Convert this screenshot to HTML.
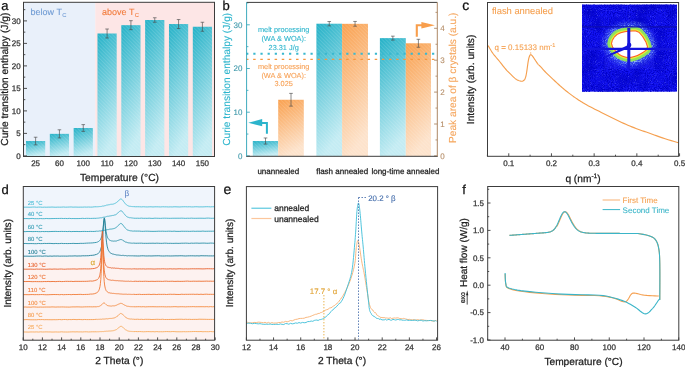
<!DOCTYPE html><html><head><meta charset="utf-8"><style>html,body{margin:0;padding:0;background:#fff;overflow:hidden}svg{display:block}text{font-family:"Liberation Sans",sans-serif;text-rendering:geometricPrecision}svg{will-change:transform}</style></head><body><svg width="685" height="367" viewBox="0 0 685 367"><defs>
<linearGradient id="gT" x1="0" y1="0" x2="0.25" y2="1"><stop offset="0" stop-color="#24b1c7"/><stop offset="1" stop-color="#c4ecf3"/></linearGradient>
<linearGradient id="gO" x1="0" y1="0" x2="0.25" y2="1"><stop offset="0" stop-color="#f9a04e"/><stop offset="1" stop-color="#fde3cc"/></linearGradient>
<pattern id="hatch" width="2.6" height="2.6" patternUnits="userSpaceOnUse" patternTransform="rotate(-45)"><rect width="0.9" height="2.6" fill="#ffffff" fill-opacity="0.13"/></pattern>
</defs>
<rect x="23.5" y="2.3" width="71.8" height="154.2" fill="#e9f0fa" />
<rect x="95.3" y="2.3" width="119.2" height="154.2" fill="#fde6e6" />
<rect x="26" y="141.05" width="19.2" height="15.45" fill="url(#gT)" />
<rect x="26" y="141.05" width="19.2" height="15.45" fill="url(#hatch)" />
<line x1="35.6" y1="137.23" x2="35.6" y2="144.88" stroke="#4a4a4a" stroke-width="0.65" />
<line x1="33.8" y1="137.23" x2="37.4" y2="137.23" stroke="#4a4a4a" stroke-width="0.65" />
<line x1="33.8" y1="144.88" x2="37.4" y2="144.88" stroke="#4a4a4a" stroke-width="0.65" />
<text x="35.6" y="165.8" font-size="8" fill="#333" stroke="#333" stroke-width="0.25" text-anchor="middle" >25</text>
<rect x="49.83" y="133.85" width="19.2" height="22.65" fill="url(#gT)" />
<rect x="49.83" y="133.85" width="19.2" height="22.65" fill="url(#hatch)" />
<line x1="59.43" y1="129.8" x2="59.43" y2="137.9" stroke="#4a4a4a" stroke-width="0.65" />
<line x1="57.63" y1="129.8" x2="61.23" y2="129.8" stroke="#4a4a4a" stroke-width="0.65" />
<line x1="57.63" y1="137.9" x2="61.23" y2="137.9" stroke="#4a4a4a" stroke-width="0.65" />
<text x="59.43" y="165.8" font-size="8" fill="#333" stroke="#333" stroke-width="0.25" text-anchor="middle" >60</text>
<rect x="73.66" y="128" width="19.2" height="28.5" fill="url(#gT)" />
<rect x="73.66" y="128" width="19.2" height="28.5" fill="url(#hatch)" />
<line x1="83.26" y1="124.62" x2="83.26" y2="131.38" stroke="#4a4a4a" stroke-width="0.65" />
<line x1="81.46" y1="124.62" x2="85.06" y2="124.62" stroke="#4a4a4a" stroke-width="0.65" />
<line x1="81.46" y1="131.38" x2="85.06" y2="131.38" stroke="#4a4a4a" stroke-width="0.65" />
<text x="83.26" y="165.8" font-size="8" fill="#333" stroke="#333" stroke-width="0.25" text-anchor="middle" >100</text>
<rect x="97.49" y="33.5" width="19.2" height="123" fill="url(#gT)" />
<rect x="97.49" y="33.5" width="19.2" height="123" fill="url(#hatch)" />
<line x1="107.09" y1="29" x2="107.09" y2="38" stroke="#4a4a4a" stroke-width="0.65" />
<line x1="105.29" y1="29" x2="108.89" y2="29" stroke="#4a4a4a" stroke-width="0.65" />
<line x1="105.29" y1="38" x2="108.89" y2="38" stroke="#4a4a4a" stroke-width="0.65" />
<text x="107.09" y="165.8" font-size="8" fill="#333" stroke="#333" stroke-width="0.25" text-anchor="middle" >110</text>
<rect x="121.32" y="25.18" width="19.2" height="131.32" fill="url(#gT)" />
<rect x="121.32" y="25.18" width="19.2" height="131.32" fill="url(#hatch)" />
<line x1="130.92" y1="20.68" x2="130.92" y2="29.67" stroke="#4a4a4a" stroke-width="0.65" />
<line x1="129.12" y1="20.68" x2="132.72" y2="20.68" stroke="#4a4a4a" stroke-width="0.65" />
<line x1="129.12" y1="29.67" x2="132.72" y2="29.67" stroke="#4a4a4a" stroke-width="0.65" />
<text x="130.92" y="165.8" font-size="8" fill="#333" stroke="#333" stroke-width="0.25" text-anchor="middle" >120</text>
<rect x="145.15" y="20" width="19.2" height="136.5" fill="url(#gT)" />
<rect x="145.15" y="20" width="19.2" height="136.5" fill="url(#hatch)" />
<line x1="154.75" y1="17.75" x2="154.75" y2="22.25" stroke="#4a4a4a" stroke-width="0.65" />
<line x1="152.95" y1="17.75" x2="156.55" y2="17.75" stroke="#4a4a4a" stroke-width="0.65" />
<line x1="152.95" y1="22.25" x2="156.55" y2="22.25" stroke="#4a4a4a" stroke-width="0.65" />
<text x="154.75" y="165.8" font-size="8" fill="#333" stroke="#333" stroke-width="0.25" text-anchor="middle" >130</text>
<rect x="168.98" y="24.05" width="19.2" height="132.45" fill="url(#gT)" />
<rect x="168.98" y="24.05" width="19.2" height="132.45" fill="url(#hatch)" />
<line x1="178.58" y1="19.55" x2="178.58" y2="28.55" stroke="#4a4a4a" stroke-width="0.65" />
<line x1="176.78" y1="19.55" x2="180.38" y2="19.55" stroke="#4a4a4a" stroke-width="0.65" />
<line x1="176.78" y1="28.55" x2="180.38" y2="28.55" stroke="#4a4a4a" stroke-width="0.65" />
<text x="178.58" y="165.8" font-size="8" fill="#333" stroke="#333" stroke-width="0.25" text-anchor="middle" >140</text>
<rect x="192.81" y="26.75" width="19.2" height="129.75" fill="url(#gT)" />
<rect x="192.81" y="26.75" width="19.2" height="129.75" fill="url(#hatch)" />
<line x1="202.41" y1="22.25" x2="202.41" y2="31.25" stroke="#4a4a4a" stroke-width="0.65" />
<line x1="200.61" y1="22.25" x2="204.21" y2="22.25" stroke="#4a4a4a" stroke-width="0.65" />
<line x1="200.61" y1="31.25" x2="204.21" y2="31.25" stroke="#4a4a4a" stroke-width="0.65" />
<text x="202.41" y="165.8" font-size="8" fill="#333" stroke="#333" stroke-width="0.25" text-anchor="middle" >150</text>
<line x1="23.5" y1="155.9" x2="27" y2="155.9" stroke="#3c3c3c" stroke-width="0.9" />
<text x="20.6" y="158.75" font-size="8" fill="#333" stroke="#333" stroke-width="0.25" text-anchor="end" >0</text>
<line x1="23.5" y1="133.4" x2="27" y2="133.4" stroke="#3c3c3c" stroke-width="0.9" />
<text x="20.6" y="136.25" font-size="8" fill="#333" stroke="#333" stroke-width="0.25" text-anchor="end" >5</text>
<line x1="23.5" y1="110.9" x2="27" y2="110.9" stroke="#3c3c3c" stroke-width="0.9" />
<text x="20.6" y="113.75" font-size="8" fill="#333" stroke="#333" stroke-width="0.25" text-anchor="end" >10</text>
<line x1="23.5" y1="88.4" x2="27" y2="88.4" stroke="#3c3c3c" stroke-width="0.9" />
<text x="20.6" y="91.25" font-size="8" fill="#333" stroke="#333" stroke-width="0.25" text-anchor="end" >15</text>
<line x1="23.5" y1="65.9" x2="27" y2="65.9" stroke="#3c3c3c" stroke-width="0.9" />
<text x="20.6" y="68.75" font-size="8" fill="#333" stroke="#333" stroke-width="0.25" text-anchor="end" >20</text>
<line x1="23.5" y1="43.4" x2="27" y2="43.4" stroke="#3c3c3c" stroke-width="0.9" />
<text x="20.6" y="46.25" font-size="8" fill="#333" stroke="#333" stroke-width="0.25" text-anchor="end" >25</text>
<line x1="23.5" y1="20.9" x2="27" y2="20.9" stroke="#3c3c3c" stroke-width="0.9" />
<text x="20.6" y="23.75" font-size="8" fill="#333" stroke="#333" stroke-width="0.25" text-anchor="end" >30</text>
<line x1="23.5" y1="144.65" x2="25.3" y2="144.65" stroke="#3c3c3c" stroke-width="0.9" />
<line x1="23.5" y1="122.15" x2="25.3" y2="122.15" stroke="#3c3c3c" stroke-width="0.9" />
<line x1="23.5" y1="99.65" x2="25.3" y2="99.65" stroke="#3c3c3c" stroke-width="0.9" />
<line x1="23.5" y1="77.15" x2="25.3" y2="77.15" stroke="#3c3c3c" stroke-width="0.9" />
<line x1="23.5" y1="54.65" x2="25.3" y2="54.65" stroke="#3c3c3c" stroke-width="0.9" />
<line x1="23.5" y1="32.15" x2="25.3" y2="32.15" stroke="#3c3c3c" stroke-width="0.9" />
<line x1="23.5" y1="9.65" x2="25.3" y2="9.65" stroke="#3c3c3c" stroke-width="0.9" />
<rect x="23.5" y="2.3" width="191.0" height="154.2" fill="none" stroke="#3c3c3c" stroke-width="1"/>
<text x="30.6" y="14.9" font-size="9" fill="#6f9bd4" stroke="#6f9bd4" stroke-width="0.1" text-anchor="start" >below T<tspan font-size="5.8" dy="1.6" dx="0.2">C</tspan></text>
<text x="102.1" y="14.9" font-size="9" fill="#f27a3a" stroke="#f27a3a" stroke-width="0.1" text-anchor="start" >above T<tspan font-size="5.8" dy="1.6" dx="0.2">C</tspan></text>
<text x="119.5" y="180.9" font-size="10.3" fill="#222" stroke="#222" stroke-width="0.25" text-anchor="middle" >Temperature (°C)</text>
<text transform="translate(8.2,79.2) rotate(-90)" font-size="10.2" fill="#222" stroke="#222" stroke-width="0.25" text-anchor="middle" >Curie transition enthalpy (J/g)</text>
<text x="1.2" y="9.8" font-size="13" fill="#111" stroke="#111" stroke-width="0.25" text-anchor="start" >a</text>
<rect x="252.8" y="141.04" width="25.4" height="15.26" fill="url(#gT)" />
<rect x="252.8" y="141.04" width="25.4" height="15.26" fill="url(#hatch)" />
<rect x="278.2" y="99.76" width="25.6" height="56.54" fill="url(#gO)" />
<rect x="278.2" y="99.76" width="25.6" height="56.54" fill="url(#hatch)" />
<line x1="265.5" y1="137.98" x2="265.5" y2="144.1" stroke="#4a4a4a" stroke-width="0.65" />
<line x1="263.7" y1="137.98" x2="267.3" y2="137.98" stroke="#4a4a4a" stroke-width="0.65" />
<line x1="263.7" y1="144.1" x2="267.3" y2="144.1" stroke="#4a4a4a" stroke-width="0.65" />
<line x1="291" y1="93.38" x2="291" y2="106.14" stroke="#4a4a4a" stroke-width="0.65" />
<line x1="289.2" y1="93.38" x2="292.8" y2="93.38" stroke="#4a4a4a" stroke-width="0.65" />
<line x1="289.2" y1="106.14" x2="292.8" y2="106.14" stroke="#4a4a4a" stroke-width="0.65" />
<text x="278.3" y="173.9" font-size="8" fill="#222" stroke="#222" stroke-width="0.25" text-anchor="middle" >unannealed</text>
<rect x="316.4" y="23.71" width="25.7" height="132.59" fill="url(#gT)" />
<rect x="316.4" y="23.71" width="25.7" height="132.59" fill="url(#hatch)" />
<rect x="342.1" y="23.83" width="25.9" height="132.47" fill="url(#gO)" />
<rect x="342.1" y="23.83" width="25.9" height="132.47" fill="url(#hatch)" />
<line x1="329.25" y1="21.52" x2="329.25" y2="25.89" stroke="#4a4a4a" stroke-width="0.65" />
<line x1="327.45" y1="21.52" x2="331.05" y2="21.52" stroke="#4a4a4a" stroke-width="0.65" />
<line x1="327.45" y1="25.89" x2="331.05" y2="25.89" stroke="#4a4a4a" stroke-width="0.65" />
<line x1="355.05" y1="21.44" x2="355.05" y2="26.23" stroke="#4a4a4a" stroke-width="0.65" />
<line x1="353.25" y1="21.44" x2="356.85" y2="21.44" stroke="#4a4a4a" stroke-width="0.65" />
<line x1="353.25" y1="26.23" x2="356.85" y2="26.23" stroke="#4a4a4a" stroke-width="0.65" />
<text x="342.2" y="173.9" font-size="8" fill="#222" stroke="#222" stroke-width="0.25" text-anchor="middle" >flash annealed</text>
<rect x="379.9" y="38.13" width="25.9" height="118.17" fill="url(#gT)" />
<rect x="379.9" y="38.13" width="25.9" height="118.17" fill="url(#hatch)" />
<rect x="405.8" y="43.29" width="25.2" height="113.01" fill="url(#gO)" />
<rect x="405.8" y="43.29" width="25.2" height="113.01" fill="url(#hatch)" />
<line x1="392.85" y1="36.16" x2="392.85" y2="40.09" stroke="#4a4a4a" stroke-width="0.65" />
<line x1="391.05" y1="36.16" x2="394.65" y2="36.16" stroke="#4a4a4a" stroke-width="0.65" />
<line x1="391.05" y1="40.09" x2="394.65" y2="40.09" stroke="#4a4a4a" stroke-width="0.65" />
<line x1="418.4" y1="39.31" x2="418.4" y2="47.28" stroke="#4a4a4a" stroke-width="0.65" />
<line x1="416.6" y1="39.31" x2="420.2" y2="39.31" stroke="#4a4a4a" stroke-width="0.65" />
<line x1="416.6" y1="47.28" x2="420.2" y2="47.28" stroke="#4a4a4a" stroke-width="0.65" />
<text x="405.45" y="173.9" font-size="8" fill="#222" stroke="#222" stroke-width="0.25" text-anchor="middle" >long-time annealed</text>
<line x1="246.15" y1="53.7" x2="435" y2="53.7" stroke="#3ab8cf" stroke-width="2.0" stroke-dasharray="2.2,4.95"/>
<line x1="246" y1="59.3" x2="435" y2="59.3" stroke="#f7953e" stroke-width="1.2" stroke-dasharray="2.5,4.65"/>
<line x1="246.6" y1="155.9" x2="249.8" y2="155.9" stroke="#3eaabd" stroke-width="0.9" />
<text x="242.5" y="158.75" font-size="8" fill="#3a96a8" stroke="#3a96a8" stroke-width="0.1" text-anchor="end" >0</text>
<line x1="246.6" y1="112.2" x2="249.8" y2="112.2" stroke="#3eaabd" stroke-width="0.9" />
<text x="242.5" y="115.05" font-size="8" fill="#3a96a8" stroke="#3a96a8" stroke-width="0.1" text-anchor="end" >10</text>
<line x1="246.6" y1="68.5" x2="249.8" y2="68.5" stroke="#3eaabd" stroke-width="0.9" />
<text x="242.5" y="71.35" font-size="8" fill="#3a96a8" stroke="#3a96a8" stroke-width="0.1" text-anchor="end" >20</text>
<line x1="246.6" y1="24.8" x2="249.8" y2="24.8" stroke="#3eaabd" stroke-width="0.9" />
<text x="242.5" y="27.65" font-size="8" fill="#3a96a8" stroke="#3a96a8" stroke-width="0.1" text-anchor="end" >30</text>
<line x1="246.6" y1="134.05" x2="248.4" y2="134.05" stroke="#3eaabd" stroke-width="0.9" />
<line x1="246.6" y1="90.35" x2="248.4" y2="90.35" stroke="#3eaabd" stroke-width="0.9" />
<line x1="246.6" y1="46.65" x2="248.4" y2="46.65" stroke="#3eaabd" stroke-width="0.9" />
<line x1="246.6" y1="2.95" x2="248.4" y2="2.95" stroke="#3eaabd" stroke-width="0.9" />
<line x1="434.1" y1="155.9" x2="437.3" y2="155.9" stroke="#ad8864" stroke-width="0.9" />
<text x="440.2" y="158.75" font-size="8" fill="#b48c66" stroke="#b48c66" stroke-width="0.1" text-anchor="start" >0</text>
<line x1="434.1" y1="124" x2="437.3" y2="124" stroke="#ad8864" stroke-width="0.9" />
<text x="440.2" y="126.85" font-size="8" fill="#b48c66" stroke="#b48c66" stroke-width="0.1" text-anchor="start" >1</text>
<line x1="434.1" y1="92.1" x2="437.3" y2="92.1" stroke="#ad8864" stroke-width="0.9" />
<text x="440.2" y="94.95" font-size="8" fill="#b48c66" stroke="#b48c66" stroke-width="0.1" text-anchor="start" >2</text>
<line x1="434.1" y1="60.2" x2="437.3" y2="60.2" stroke="#ad8864" stroke-width="0.9" />
<text x="440.2" y="63.05" font-size="8" fill="#b48c66" stroke="#b48c66" stroke-width="0.1" text-anchor="start" >3</text>
<line x1="434.1" y1="28.3" x2="437.3" y2="28.3" stroke="#ad8864" stroke-width="0.9" />
<text x="440.2" y="31.15" font-size="8" fill="#b48c66" stroke="#b48c66" stroke-width="0.1" text-anchor="start" >4</text>
<line x1="435.5" y1="139.95" x2="437.3" y2="139.95" stroke="#ad8864" stroke-width="0.9" />
<line x1="435.5" y1="108.05" x2="437.3" y2="108.05" stroke="#ad8864" stroke-width="0.9" />
<line x1="435.5" y1="76.15" x2="437.3" y2="76.15" stroke="#ad8864" stroke-width="0.9" />
<line x1="435.5" y1="44.25" x2="437.3" y2="44.25" stroke="#ad8864" stroke-width="0.9" />
<line x1="435.5" y1="12.35" x2="437.3" y2="12.35" stroke="#ad8864" stroke-width="0.9" />
<line x1="246.6" y1="2.4" x2="437.3" y2="2.4" stroke="#3c3c3c" stroke-width="1" />
<line x1="246.1" y1="156.3" x2="437.8" y2="156.3" stroke="#3c3c3c" stroke-width="1" />
<line x1="246.6" y1="2.4" x2="246.6" y2="156.3" stroke="#3eaabd" stroke-width="1" />
<line x1="437.3" y1="2.4" x2="437.3" y2="156.3" stroke="#ad8864" stroke-width="1" />
<text x="283.7" y="31.9" font-size="7.35" fill="#2bb4cc" stroke="#2bb4cc" stroke-width="0.1" text-anchor="middle" >melt processing</text>
<text x="283.7" y="40.8" font-size="7.35" fill="#2bb4cc" stroke="#2bb4cc" stroke-width="0.1" text-anchor="middle" >(WA &amp; WOA):</text>
<text x="283.7" y="49.7" font-size="7.35" fill="#2bb4cc" stroke="#2bb4cc" stroke-width="0.1" text-anchor="middle" >23.31 J/g</text>
<text x="283.7" y="69.2" font-size="7.35" fill="#f7a055" stroke="#f7a055" stroke-width="0.1" text-anchor="middle" >melt processing</text>
<text x="283.7" y="77.75" font-size="7.35" fill="#f7a055" stroke="#f7a055" stroke-width="0.1" text-anchor="middle" >(WA &amp; WOA):</text>
<text x="283.7" y="86.3" font-size="7.35" fill="#f7a055" stroke="#f7a055" stroke-width="0.1" text-anchor="middle" >3.025</text>
<path d="M266.9,133.7 L266.9,122.9 L260,122.9" fill="none" stroke="#2bb4cc" stroke-width="2.0"/>
<path d="M248.3,122.8 L262.2,119 L262.2,126.3 Z" fill="#2bb4cc"/>
<path d="M416.8,36.7 L416.8,25.2 L424,25.2" fill="none" stroke="#f89e4c" stroke-width="2.1"/>
<path d="M434.9,25.2 L421.4,21.9 L421.4,28.6 Z" fill="#f89e4c"/>
<text transform="translate(229.8,79.3) rotate(-90)" font-size="10.2" fill="#2bb4cc" stroke="#2bb4cc" stroke-width="0.1" text-anchor="middle" >Curie transition enthalpy (J/g)</text>
<text transform="translate(455.6,77.8) rotate(-90)" font-size="10.2" fill="#f5a45a" stroke="#f5a45a" stroke-width="0.1" text-anchor="middle" >Peak area of β crystals (a.u.)</text>
<text x="222.6" y="9.8" font-size="13" fill="#111" stroke="#111" stroke-width="0.25" text-anchor="start" >b</text>
<path d="M488,45.5 L488.53,46.37 L489.24,47.57 L490.09,49 L491.03,50.54 L492.02,52.07 L493,53.5 L494.01,54.83 L495.09,56.17 L496.21,57.5 L497.36,58.83 L498.49,60.17 L499.6,61.5 L500.67,62.84 L501.71,64.19 L502.76,65.54 L503.81,66.89 L504.88,68.21 L506,69.5 L507.21,70.81 L508.5,72.14 L509.82,73.46 L511.1,74.71 L512.28,75.84 L513.3,76.8 L514.12,77.57 L514.77,78.18 L515.32,78.67 L515.84,79.08 L516.38,79.44 L517,79.8 L517.73,80.15 L518.51,80.47 L519.33,80.74 L520.12,80.96 L520.86,81.12 L521.5,81.2 L522.04,81.21 L522.52,81.14 L522.94,81.01 L523.31,80.83 L523.66,80.59 L524,80.3 L524.31,79.97 L524.59,79.59 L524.84,79.16 L525.07,78.67 L525.28,78.12 L525.5,77.5 L525.7,76.87 L525.87,76.24 L526.04,75.56 L526.2,74.74 L526.39,73.75 L526.6,72.5 L526.85,70.86 L527.14,68.83 L527.44,66.62 L527.75,64.42 L528.04,62.42 L528.3,60.8 L528.53,59.59 L528.74,58.63 L528.93,57.86 L529.12,57.24 L529.31,56.71 L529.5,56.2 L529.69,55.74 L529.88,55.36 L530.06,55.08 L530.26,54.87 L530.47,54.75 L530.7,54.7 L530.96,54.74 L531.23,54.87 L531.52,55.08 L531.83,55.36 L532.15,55.7 L532.5,56.1 L532.87,56.58 L533.27,57.15 L533.69,57.78 L534.12,58.45 L534.56,59.13 L535,59.8 L535.46,60.48 L535.93,61.21 L536.42,61.94 L536.9,62.66 L537.36,63.32 L537.8,63.9 L538.16,64.33 L538.44,64.61 L538.7,64.85 L539.01,65.12 L539.42,65.51 L540,66.1 L540.78,66.94 L541.71,67.97 L542.74,69.11 L543.84,70.31 L544.94,71.5 L546,72.6 L547.03,73.63 L548.09,74.65 L549.14,75.65 L550.2,76.64 L551.26,77.62 L552.3,78.6 L553.33,79.57 L554.35,80.54 L555.36,81.49 L556.37,82.44 L557.39,83.38 L558.4,84.3 L559.42,85.21 L560.43,86.11 L561.45,87.01 L562.47,87.89 L563.48,88.75 L564.5,89.6 L565.52,90.43 L566.53,91.25 L567.54,92.06 L568.56,92.85 L569.58,93.63 L570.6,94.4 L571.63,95.16 L572.66,95.91 L573.7,96.66 L574.74,97.39 L575.77,98.1 L576.8,98.8 L577.82,99.48 L578.84,100.15 L579.86,100.81 L580.87,101.45 L581.88,102.08 L582.9,102.7 L583.84,103.28 L584.7,103.8 L585.56,104.31 L586.51,104.85 L587.62,105.47 L589,106.2 L590.69,107.08 L592.64,108.07 L594.77,109.14 L596.98,110.25 L599.18,111.35 L601.3,112.4 L603.34,113.41 L605.37,114.42 L607.4,115.42 L609.43,116.41 L611.46,117.41 L613.5,118.4 L615.55,119.4 L617.6,120.41 L619.65,121.42 L621.7,122.41 L623.75,123.38 L625.8,124.3 L627.84,125.18 L629.87,126.03 L631.9,126.85 L633.93,127.65 L635.96,128.43 L638,129.2 L640.05,129.95 L642.1,130.67 L644.15,131.38 L646.2,132.08 L648.25,132.78 L650.3,133.5 L652.3,134.22 L654.23,134.94 L656.17,135.66 L658.16,136.39 L660.25,137.14 L662.5,137.9 L665.13,138.74 L668.14,139.68 L671.26,140.63 L674.21,141.51 L676.72,142.26 L678.5,142.8" fill="none" stroke="#f5a050" stroke-width="1.15" stroke-linejoin="round" />
<line x1="530.7" y1="52" x2="530.7" y2="54.5" stroke="#f5a050" stroke-width="0.6" />
<line x1="508.75" y1="156.3" x2="508.75" y2="153.3" stroke="#3c3c3c" stroke-width="0.9" />
<text x="508.75" y="165.8" font-size="8" fill="#333" stroke="#333" stroke-width="0.25" text-anchor="middle" >0.1</text>
<line x1="551.45" y1="156.3" x2="551.45" y2="153.3" stroke="#3c3c3c" stroke-width="0.9" />
<text x="551.45" y="165.8" font-size="8" fill="#333" stroke="#333" stroke-width="0.25" text-anchor="middle" >0.2</text>
<line x1="594.15" y1="156.3" x2="594.15" y2="153.3" stroke="#3c3c3c" stroke-width="0.9" />
<text x="594.15" y="165.8" font-size="8" fill="#333" stroke="#333" stroke-width="0.25" text-anchor="middle" >0.3</text>
<line x1="636.85" y1="156.3" x2="636.85" y2="153.3" stroke="#3c3c3c" stroke-width="0.9" />
<text x="636.85" y="165.8" font-size="8" fill="#333" stroke="#333" stroke-width="0.25" text-anchor="middle" >0.4</text>
<line x1="679.55" y1="156.3" x2="679.55" y2="153.3" stroke="#3c3c3c" stroke-width="0.9" />
<text x="679.55" y="165.8" font-size="8" fill="#333" stroke="#333" stroke-width="0.25" text-anchor="middle" >0.5</text>
<line x1="487.4" y1="156.3" x2="487.4" y2="154.7" stroke="#3c3c3c" stroke-width="0.9" />
<line x1="530.1" y1="156.3" x2="530.1" y2="154.7" stroke="#3c3c3c" stroke-width="0.9" />
<line x1="572.8" y1="156.3" x2="572.8" y2="154.7" stroke="#3c3c3c" stroke-width="0.9" />
<line x1="615.5" y1="156.3" x2="615.5" y2="154.7" stroke="#3c3c3c" stroke-width="0.9" />
<line x1="658.2" y1="156.3" x2="658.2" y2="154.7" stroke="#3c3c3c" stroke-width="0.9" />
<defs><filter id="nz" x="0" y="0" width="1" height="1"><feTurbulence type="fractalNoise" baseFrequency="1.15" numOctaves="1" seed="7"/><feColorMatrix values="0 0 0 0 0.28  0 0 0 0 0.32  0 0 0 0 1  0 0 0 3.0 -1.8"/></filter><filter id="nz2" x="0" y="0" width="1" height="1"><feTurbulence type="fractalNoise" baseFrequency="1.05" numOctaves="1" seed="2"/><feColorMatrix values="0 0 0 0 0  0 0 0 0 0  0 0 0 0 0.55  0 0 0 3.2 -1.3"/></filter><filter id="nz3" x="0" y="0" width="1" height="1"><feTurbulence type="fractalNoise" baseFrequency="0.06" numOctaves="2" seed="5"/><feColorMatrix values="0 0 0 0 0  0 0 0 0 0  0 0 0 0 0.55  0 0 0 2.0 -0.85"/></filter><filter id="speck" x="-40%" y="-40%" width="180%" height="180%"><feGaussianBlur in="SourceGraphic" stdDeviation="2.6" result="b"/><feTurbulence type="fractalNoise" baseFrequency="1.25" numOctaves="1" seed="11" result="n"/><feColorMatrix in="n" type="matrix" values="0 0 0 0 1  0 0 0 0 1  0 0 0 0 1  0 0 0 3.2 -1.45" result="na"/><feComposite in="b" in2="na" operator="in"/></filter><filter id="blr1" x="-50%" y="-50%" width="200%" height="200%"><feGaussianBlur stdDeviation="0.7"/></filter><filter id="blr2" x="-50%" y="-50%" width="200%" height="200%"><feGaussianBlur stdDeviation="2.5"/></filter><clipPath id="ic"><rect x="582" y="4.4" width="95" height="87.4"/></clipPath></defs>
<g clip-path="url(#ic)">
<rect x="582" y="4.4" width="95" height="87.4" fill="#1414f4" />
<rect x="582" y="4.4" width="95" height="87.4" filter="url(#nz3)"/>
<rect x="582" y="4.4" width="95" height="87.4" filter="url(#nz2)"/>
<rect x="582" y="4.4" width="95" height="87.4" filter="url(#nz)" opacity="0.6"/>
<rect x="604.8" y="29.2" width="49.2" height="39.5" fill="#3a3aff" opacity="0.22"/>
<path d="M612.03,43.56 L612.84,40.44 L614.87,37.32 L617.54,34.83 L620.91,33.25 L624.91,32.31 L628.77,31.81 L632.26,31.38 L635.61,31.4 L638.76,32.85 L642.19,36.81 L645.42,42.2 L646.97,46.79 L645.84,49.7 L643.02,51.82 L640,53.55 L637.18,55.03 L634.15,56.12 L631.27,56.77 L628.63,56.93 L626.14,56.66 L623.78,56.04 L621.58,55.2 L619.52,54.03 L617.54,52.3 L615.24,49.76 L613.02,46.66Z" fill="#5a90ff" stroke="#5a90ff" stroke-width="16" stroke-linejoin="round" opacity="0.45" filter="url(#blr2)"/>
<path d="M612.03,43.56 L612.84,40.44 L614.87,37.32 L617.54,34.83 L620.91,33.25 L624.91,32.31 L628.77,31.81 L632.26,31.38 L635.61,31.4 L638.76,32.85 L642.19,36.81 L645.42,42.2 L646.97,46.79 L645.84,49.7 L643.02,51.82 L640,53.55 L637.18,55.03 L634.15,56.12 L631.27,56.77 L628.63,56.93 L626.14,56.66 L623.78,56.04 L621.58,55.2 L619.52,54.03 L617.54,52.3 L615.24,49.76 L613.02,46.66Z" fill="#b8e0ff" stroke="#b8e0ff" stroke-width="17" stroke-linejoin="round" filter="url(#speck)" opacity="0.85"/>
<path d="M612.03,43.56 L612.84,40.44 L614.87,37.32 L617.54,34.83 L620.91,33.25 L624.91,32.31 L628.77,31.81 L632.26,31.38 L635.61,31.4 L638.76,32.85 L642.19,36.81 L645.42,42.2 L646.97,46.79 L645.84,49.7 L643.02,51.82 L640,53.55 L637.18,55.03 L634.15,56.12 L631.27,56.77 L628.63,56.93 L626.14,56.66 L623.78,56.04 L621.58,55.2 L619.52,54.03 L617.54,52.3 L615.24,49.76 L613.02,46.66Z" fill="#8fe25c" stroke="#8fe25c" stroke-width="9.5" stroke-linejoin="round" filter="url(#blr1)"/>
<path d="M612.03,43.56 L612.84,40.44 L614.87,37.32 L617.54,34.83 L620.91,33.25 L624.91,32.31 L628.77,31.81 L632.26,31.38 L635.61,31.4 L638.76,32.85 L642.19,36.81 L645.42,42.2 L646.97,46.79 L645.84,49.7 L643.02,51.82 L640,53.55 L637.18,55.03 L634.15,56.12 L631.27,56.77 L628.63,56.93 L626.14,56.66 L623.78,56.04 L621.58,55.2 L619.52,54.03 L617.54,52.3 L615.24,49.76 L613.02,46.66Z" fill="#e4ee3a" stroke="#e4ee3a" stroke-width="4.4" stroke-linejoin="round"/>
<path d="M612.03,43.56 L612.84,40.44 L614.87,37.32 L617.54,34.83 L620.91,33.25 L624.91,32.31 L628.77,31.81 L632.26,31.38 L635.61,31.4 L638.76,32.85 L642.19,36.81 L645.42,42.2 L646.97,46.79 L645.84,49.7 L643.02,51.82 L640,53.55 L637.18,55.03 L634.15,56.12 L631.27,56.77 L628.63,56.93 L626.14,56.66 L623.78,56.04 L621.58,55.2 L619.52,54.03 L617.54,52.3 L615.24,49.76 L613.02,46.66Z" fill="#ff5a22" stroke="#ff5a22" stroke-width="2.0" stroke-linejoin="round"/>
<path d="M612.03,43.56 L612.84,40.44 L614.87,37.32 L617.54,34.83 L620.91,33.25 L624.91,32.31 L628.77,31.81 L632.26,31.38 L635.61,31.4 L638.76,32.85 L642.19,36.81 L645.42,42.2 L646.97,46.79 L645.84,49.7 L643.02,51.82 L640,53.55 L637.18,55.03 L634.15,56.12 L631.27,56.77 L628.63,56.93 L626.14,56.66 L623.78,56.04 L621.58,55.2 L619.52,54.03 L617.54,52.3 L615.24,49.76 L613.02,46.66Z" fill="#ffffff"/>
<line x1="582" y1="26.8" x2="677" y2="26.8" stroke="#0e0eb0" stroke-width="1.2" />
<line x1="604.8" y1="29" x2="604.8" y2="68.7" stroke="#1616c8" stroke-width="0.7" opacity="0.7"/>
<line x1="654" y1="29" x2="654" y2="68.7" stroke="#1616c8" stroke-width="0.6" opacity="0.5"/>
<line x1="582" y1="48.9" x2="677" y2="48.9" stroke="#1414dc" stroke-width="2.2" />
<line x1="628.8" y1="28" x2="628.8" y2="69.5" stroke="#1414dc" stroke-width="3.0" />
<path d="M629,44.5 L604.5,56.8 L604.8,58 L629,48 Z" fill="#1414dc"/>
<circle cx="629.2" cy="45" r="2.2" fill="#1414dc"/>
</g>
<rect x="487.5" y="2.5" width="191.10000000000002" height="153.8" fill="none" stroke="#3c3c3c" stroke-width="1"/>
<text x="492" y="14.2" font-size="9.4" fill="#f5a050" stroke="#f5a050" stroke-width="0.1" text-anchor="start" >flash annealed</text>
<text x="494.5" y="50.4" font-size="8" fill="#f5a050" stroke="#f5a050" stroke-width="0.1" text-anchor="start" >q = 0.15133 nm<tspan font-size="5.5" dy="-3">-1</tspan></text>
<text x="583" y="181.9" font-size="10.2" fill="#222" stroke="#222" stroke-width="0.25" text-anchor="middle" >q (nm<tspan font-size="6.5" dy="-3.5">-1</tspan><tspan dy="3.5">)</tspan></text>
<text transform="translate(474.1,79.4) rotate(-90)" font-size="10.2" fill="#222" stroke="#222" stroke-width="0.25" text-anchor="middle" >Intensity (arb. units)</text>
<text x="462.2" y="10.3" font-size="14" fill="#111" stroke="#111" stroke-width="0.25" text-anchor="start" >c</text>
<rect x="23.3" y="186.5" width="191.3" height="71.3" fill="#f0f5fc" />
<rect x="23.3" y="257.8" width="191.3" height="82.4" fill="#fdf2f0" />
<g clip-path="url(#cd)">
<path d="M23.2,207.13 L25.12,207.2 L27.04,207.15 L28.96,207.21 L30.88,207.21 L32.8,207.06 L34.72,207.04 L36.64,207.25 L38.56,207.1 L40.48,207.09 L42.4,207.28 L44.32,207.14 L46.24,207.23 L48.16,207.13 L50.08,207.17 L52,207.04 L53.92,207.16 L55.84,207.22 L57.76,207.12 L59.68,207.17 L61.6,207.15 L63.52,206.99 L65.44,207.16 L67.36,207.12 L69.28,207.04 L71.2,206.96 L73.12,207.17 L75.04,207.06 L76.96,207.12 L78.88,207.16 L80.8,207.11 L82.72,207.15 L84.64,207.01 L86.56,207.11 L88.48,207 L90.4,207.11 L92.32,207.07 L94.24,206.82 L96.16,206.75 L96.54,206.75 L96.93,206.92 L97.31,206.76 L97.7,206.78 L98.08,206.66 L98.46,206.68 L98.85,206.62 L99.23,206.57 L99.62,206.58 L100,206.54 L100.38,206.57 L100.77,206.46 L101.15,206.46 L101.54,206.39 L101.92,206.36 L102.3,206.21 L102.69,206 L103.07,206.11 L103.46,206.06 L103.84,205.96 L104.22,205.8 L104.61,205.75 L104.99,205.53 L105.38,205.61 L105.76,205.45 L106.14,205.29 L106.53,205.14 L106.91,205.26 L107.3,205.21 L107.68,204.89 L108.06,204.99 L108.45,204.8 L108.83,204.66 L109.22,204.62 L109.6,204.67 L109.98,204.62 L110.37,204.34 L110.75,204.42 L111.14,204.21 L111.52,204.33 L111.9,204.16 L112.29,204.24 L112.67,204.2 L113.06,204.01 L113.44,204.06 L113.82,203.79 L114.21,203.62 L114.59,203.63 L114.98,203.34 L115.36,203.2 L115.74,203.05 L116.13,202.87 L116.51,202.48 L116.9,202.15 L117.28,202.02 L117.66,201.51 L118.05,201.29 L118.43,200.87 L118.82,200.32 L119.2,199.95 L119.58,199.61 L119.97,199.34 L120.35,199.1 L120.74,198.98 L121.12,199 L121.5,199.22 L121.89,199.37 L122.27,199.71 L122.66,200.23 L123.04,200.61 L123.42,201.16 L123.81,201.87 L124.19,202.29 L124.58,202.81 L124.96,203.15 L125.34,203.71 L125.73,204.16 L126.11,204.38 L126.5,204.86 L126.88,205.15 L127.26,205.25 L127.65,205.61 L128.03,205.75 L128.42,205.96 L128.8,206.01 L129.18,206.21 L129.57,206.31 L129.95,206.2 L130.34,206.27 L130.72,206.49 L131.1,206.61 L131.49,206.47 L131.87,206.55 L132.26,206.62 L132.64,206.57 L133.02,206.61 L133.41,206.62 L133.79,206.65 L135.71,206.78 L137.63,206.74 L139.55,206.79 L141.47,206.92 L143.39,206.74 L145.31,206.89 L147.23,206.94 L149.15,206.83 L151.07,206.81 L152.99,206.96 L154.91,206.82 L156.83,206.8 L158.75,206.87 L160.67,206.94 L162.59,206.78 L164.51,206.83 L166.43,206.84 L168.35,206.96 L170.27,206.86 L172.19,206.96 L174.11,206.78 L176.03,206.82 L177.95,206.9 L179.87,206.96 L181.79,206.84 L183.71,206.78 L185.63,206.75 L187.55,206.85 L189.47,206.76 L191.39,206.92 L193.31,206.92 L195.23,206.75 L197.15,206.77 L199.07,206.91 L200.99,206.86 L202.91,206.9 L204.83,206.77 L206.75,206.71 L208.67,206.75 L210.59,206.88 L212.51,206.74 L214.43,206.76" fill="none" stroke="#4dbfd7" stroke-width="0.9" stroke-linejoin="round" />
</g>
<text x="27.8" y="204.6" font-size="5.9" fill="#4dbfd7" stroke="#4dbfd7" stroke-width="0.1">25 °C</text>
<g clip-path="url(#cd)">
<path d="M23.2,218.57 L25.12,218.57 L27.04,218.56 L28.96,218.69 L30.88,218.49 L32.8,218.45 L34.72,218.69 L36.64,218.66 L38.56,218.69 L40.48,218.54 L42.4,218.67 L44.32,218.66 L46.24,218.47 L48.16,218.6 L50.08,218.62 L52,218.57 L53.92,218.53 L55.84,218.47 L57.76,218.48 L59.68,218.44 L61.6,218.4 L63.52,218.53 L65.44,218.44 L67.36,218.57 L69.28,218.37 L71.2,218.59 L73.12,218.53 L75.04,218.58 L76.96,218.57 L78.88,218.56 L80.8,218.47 L82.72,218.32 L84.64,218.5 L86.56,218.34 L88.48,218.37 L90.4,218.44 L92.32,218.38 L94.24,218.31 L96.16,218.37 L96.54,218.26 L96.93,218.17 L97.31,218.12 L97.7,218.25 L98.08,218.11 L98.46,218.16 L98.85,218.01 L99.23,217.93 L99.62,217.98 L100,218 L100.38,217.78 L100.77,217.89 L101.15,217.87 L101.54,217.78 L101.92,217.72 L102.3,217.44 L102.69,217.53 L103.07,217.52 L103.46,217.23 L103.84,217.21 L104.22,217.13 L104.61,217.11 L104.99,217 L105.38,216.92 L105.76,216.91 L106.14,216.62 L106.53,216.55 L106.91,216.48 L107.3,216.39 L107.68,216.29 L108.06,216.45 L108.45,216.33 L108.83,216.05 L109.22,216.09 L109.6,215.97 L109.98,215.9 L110.37,215.84 L110.75,215.85 L111.14,215.78 L111.52,215.66 L111.9,215.56 L112.29,215.53 L112.67,215.42 L113.06,215.46 L113.44,215.43 L113.82,215.26 L114.21,215.08 L114.59,214.99 L114.98,214.9 L115.36,214.8 L115.74,214.66 L116.13,214.33 L116.51,214.19 L116.9,213.86 L117.28,213.5 L117.66,213.14 L118.05,212.81 L118.43,212.48 L118.82,212.03 L119.2,211.73 L119.58,211.34 L119.97,211 L120.35,210.87 L120.74,210.81 L121.12,210.66 L121.5,210.89 L121.89,211.13 L122.27,211.6 L122.66,212.04 L123.04,212.37 L123.42,213.01 L123.81,213.49 L124.19,213.86 L124.58,214.4 L124.96,214.77 L125.34,215.37 L125.73,215.72 L126.11,216.13 L126.5,216.42 L126.88,216.65 L127.26,216.91 L127.65,217.07 L128.03,217.12 L128.42,217.39 L128.8,217.36 L129.18,217.5 L129.57,217.75 L129.95,217.64 L130.34,217.71 L130.72,217.77 L131.1,218.01 L131.49,217.87 L131.87,217.86 L132.26,218.1 L132.64,217.94 L133.02,218.15 L133.41,218.13 L133.79,218.19 L135.71,218.28 L137.63,218.23 L139.55,218.31 L141.47,218.13 L143.39,218.33 L145.31,218.28 L147.23,218.33 L149.15,218.18 L151.07,218.35 L152.99,218.4 L154.91,218.17 L156.83,218.24 L158.75,218.3 L160.67,218.37 L162.59,218.22 L164.51,218.2 L166.43,218.22 L168.35,218.31 L170.27,218.34 L172.19,218.25 L174.11,218.24 L176.03,218.24 L177.95,218.23 L179.87,218.24 L181.79,218.15 L183.71,218.25 L185.63,218.37 L187.55,218.23 L189.47,218.31 L191.39,218.15 L193.31,218.29 L195.23,218.3 L197.15,218.28 L199.07,218.23 L200.99,218.22 L202.91,218.26 L204.83,218.32 L206.75,218.12 L208.67,218.1 L210.59,218.27 L212.51,218.31 L214.43,218.2" fill="none" stroke="#3fb0c8" stroke-width="0.9" stroke-linejoin="round" />
</g>
<text x="27.8" y="216" font-size="5.9" fill="#3aaac4" stroke="#3aaac4" stroke-width="0.1">40 °C</text>
<g clip-path="url(#cd)">
<path d="M23.2,231.58 L25.12,231.65 L27.04,231.51 L28.96,231.52 L30.88,231.5 L32.8,231.6 L34.72,231.52 L36.64,231.5 L38.56,231.61 L40.48,231.67 L42.4,231.5 L44.32,231.6 L46.24,231.52 L48.16,231.63 L50.08,231.56 L52,231.47 L53.92,231.45 L55.84,231.4 L57.76,231.51 L59.68,231.48 L61.6,231.42 L63.52,231.47 L65.44,231.45 L67.36,231.56 L69.28,231.39 L71.2,231.61 L73.12,231.47 L75.04,231.5 L76.96,231.46 L78.88,231.55 L80.8,231.54 L82.72,231.46 L84.64,231.43 L86.56,231.49 L88.48,231.51 L90.4,231.38 L92.32,231.44 L94.24,231.45 L96.16,231.26 L96.54,231.17 L96.93,231.15 L97.31,231.26 L97.7,231.22 L98.08,231.27 L98.46,231.21 L98.85,231.02 L99.23,230.97 L99.62,230.95 L100,230.89 L100.38,230.98 L100.77,230.97 L101.15,230.93 L101.54,230.71 L101.92,230.81 L102.3,230.61 L102.69,230.58 L103.07,230.59 L103.46,230.36 L103.84,230.29 L104.22,230.41 L104.61,230.19 L104.99,230.13 L105.38,230.11 L105.76,230.06 L106.14,229.81 L106.53,229.82 L106.91,229.76 L107.3,229.7 L107.68,229.55 L108.06,229.57 L108.45,229.6 L108.83,229.38 L109.22,229.35 L109.6,229.17 L109.98,229.15 L110.37,229.19 L110.75,228.98 L111.14,229.12 L111.52,229.07 L111.9,228.8 L112.29,228.96 L112.67,228.75 L113.06,228.78 L113.44,228.69 L113.82,228.48 L114.21,228.47 L114.59,228.33 L114.98,228.22 L115.36,227.9 L115.74,227.81 L116.13,227.62 L116.51,227.27 L116.9,226.92 L117.28,226.46 L117.66,226.18 L118.05,225.75 L118.43,225.43 L118.82,225 L119.2,224.56 L119.58,224.09 L119.97,223.9 L120.35,223.67 L120.74,223.42 L121.12,223.61 L121.5,223.67 L121.89,223.79 L122.27,224.35 L122.66,224.58 L123.04,225.12 L123.42,225.75 L123.81,226.25 L124.19,226.76 L124.58,227.29 L124.96,227.72 L125.34,228.13 L125.73,228.5 L126.11,228.83 L126.5,229.32 L126.88,229.62 L127.26,229.81 L127.65,230.07 L128.03,230.15 L128.42,230.27 L128.8,230.43 L129.18,230.67 L129.57,230.54 L129.95,230.74 L130.34,230.73 L130.72,230.92 L131.1,230.86 L131.49,230.89 L131.87,230.94 L132.26,231.01 L132.64,231.1 L133.02,231.01 L133.41,231.16 L133.79,230.99 L135.71,231.09 L137.63,231.09 L139.55,231.12 L141.47,231.32 L143.39,231.32 L145.31,231.19 L147.23,231.19 L149.15,231.26 L151.07,231.35 L152.99,231.37 L154.91,231.35 L156.83,231.31 L158.75,231.19 L160.67,231.26 L162.59,231.2 L164.51,231.29 L166.43,231.3 L168.35,231.2 L170.27,231.21 L172.19,231.35 L174.11,231.15 L176.03,231.35 L177.95,231.36 L179.87,231.38 L181.79,231.23 L183.71,231.27 L185.63,231.27 L187.55,231.28 L189.47,231.37 L191.39,231.29 L193.31,231.18 L195.23,231.33 L197.15,231.23 L199.07,231.25 L200.99,231.28 L202.91,231.09 L204.83,231.29 L206.75,231.25 L208.67,231.21 L210.59,231.21 L212.51,231.19 L214.43,231.12" fill="none" stroke="#30a0b6" stroke-width="0.9" stroke-linejoin="round" />
</g>
<text x="27.8" y="229" font-size="5.9" fill="#2e9cb2" stroke="#2e9cb2" stroke-width="0.1">60 °C</text>
<g clip-path="url(#cd)">
<path d="M23.2,243.6 L25.12,243.46 L27.04,243.58 L28.96,243.61 L30.88,243.56 L32.8,243.58 L34.72,243.68 L36.64,243.66 L38.56,243.46 L40.48,243.62 L42.4,243.57 L44.32,243.42 L46.24,243.49 L48.16,243.45 L50.08,243.41 L52,243.52 L53.92,243.62 L55.84,243.45 L57.76,243.59 L59.68,243.54 L61.6,243.38 L63.52,243.56 L65.44,243.49 L67.36,243.57 L69.28,243.5 L71.2,243.5 L73.12,243.38 L75.04,243.49 L76.96,243.5 L78.88,243.47 L80.8,243.34 L82.72,243.39 L84.64,243.29 L86.56,243.15 L88.48,243.07 L90.4,243 L92.32,242.9 L94.24,242.69 L96.16,242.43 L96.54,242.38 L96.93,242.22 L97.31,242.06 L97.7,241.96 L98.08,241.69 L98.46,241.52 L98.85,241.35 L99.23,240.96 L99.62,240.54 L100,240.28 L100.38,239.69 L100.77,238.9 L101.15,238.02 L101.54,236.93 L101.92,235.46 L102.3,233.42 L102.69,230.82 L103.07,227.7 L103.46,224.2 L103.84,220.65 L104.22,218.86 L104.61,219.39 L104.99,222.11 L105.38,225.66 L105.76,229.09 L106.14,231.81 L106.53,233.92 L106.91,235.56 L107.3,236.8 L107.68,237.8 L108.06,238.4 L108.45,238.93 L108.83,239.47 L109.22,239.8 L109.6,240.15 L109.98,240.19 L110.37,240.46 L110.75,240.61 L111.14,240.63 L111.52,240.97 L111.9,240.86 L112.29,240.9 L112.67,241.05 L113.06,241.02 L113.44,241.17 L113.82,241.11 L114.21,241.06 L114.59,241.04 L114.98,241.2 L115.36,241.04 L115.74,241.13 L116.13,240.98 L116.51,241.02 L116.9,240.75 L117.28,240.62 L117.66,240.5 L118.05,240.5 L118.43,240.3 L118.82,240.07 L119.2,239.86 L119.58,239.88 L119.97,239.85 L120.35,239.67 L120.74,239.49 L121.12,239.52 L121.5,239.61 L121.89,239.75 L122.27,239.89 L122.66,240.1 L123.04,240.48 L123.42,240.78 L123.81,240.85 L124.19,241.29 L124.58,241.39 L124.96,241.69 L125.34,241.92 L125.73,242.11 L126.11,242.04 L126.5,242.26 L126.88,242.46 L127.26,242.67 L127.65,242.54 L128.03,242.68 L128.42,242.89 L128.8,242.76 L129.18,242.88 L129.57,242.91 L129.95,243.04 L130.34,243.14 L130.72,242.97 L131.1,243.14 L131.49,243.15 L131.87,243.2 L132.26,243.14 L132.64,243.25 L133.02,243.12 L133.41,243.14 L133.79,243.1 L135.71,243.28 L137.63,243.23 L139.55,243.19 L141.47,243.17 L143.39,243.33 L145.31,243.3 L147.23,243.33 L149.15,243.25 L151.07,243.28 L152.99,243.19 L154.91,243.34 L156.83,243.16 L158.75,243.27 L160.67,243.35 L162.59,243.33 L164.51,243.17 L166.43,243.21 L168.35,243.36 L170.27,243.31 L172.19,243.37 L174.11,243.36 L176.03,243.25 L177.95,243.36 L179.87,243.32 L181.79,243.21 L183.71,243.22 L185.63,243.14 L187.55,243.22 L189.47,243.36 L191.39,243.13 L193.31,243.25 L195.23,243.13 L197.15,243.12 L199.07,243.26 L200.99,243.15 L202.91,243.1 L204.83,243.12 L206.75,243.25 L208.67,243.23 L210.59,243.07 L212.51,243.13 L214.43,243.32" fill="none" stroke="#2a90a6" stroke-width="0.9" stroke-linejoin="round" />
</g>
<text x="27.8" y="241" font-size="5.9" fill="#2a90a6" stroke="#2a90a6" stroke-width="0.1">80 °C</text>
<g clip-path="url(#cd)">
<path d="M23.2,256.11 L25.12,256.2 L27.04,256.15 L28.96,256.24 L30.88,256.19 L32.8,256.24 L34.72,256.16 L36.64,256.07 L38.56,256.06 L40.48,256.03 L42.4,256.22 L44.32,256.03 L46.24,256 L48.16,256.24 L50.08,256.03 L52,256.21 L53.92,255.99 L55.84,256.08 L57.76,256.01 L59.68,256.16 L61.6,256.09 L63.52,256.09 L65.44,256.11 L67.36,256.13 L69.28,255.98 L71.2,256.03 L73.12,255.98 L75.04,255.87 L76.96,256.04 L78.88,255.95 L80.8,255.98 L82.72,255.78 L84.64,255.82 L86.56,255.74 L88.48,255.72 L90.4,255.43 L92.32,255.32 L94.24,255.06 L96.16,254.44 L96.54,254.42 L96.93,254.3 L97.31,254.02 L97.7,253.85 L98.08,253.58 L98.46,253.16 L98.85,252.82 L99.23,252.54 L99.62,251.82 L100,251.17 L100.38,250.23 L100.77,249.21 L101.15,247.83 L101.54,246.27 L101.92,243.9 L102.3,240.89 L102.69,236.95 L103.07,231.85 L103.46,226.22 L103.84,220.8 L104.22,217.85 L104.61,218.99 L104.99,223.32 L105.38,229.01 L105.76,234.29 L106.14,238.81 L106.53,242.17 L106.91,244.94 L107.3,246.9 L107.68,248.25 L108.06,249.58 L108.45,250.3 L108.83,251 L109.22,251.74 L109.6,252.1 L109.98,252.55 L110.37,252.9 L110.75,253.02 L111.14,253.43 L111.52,253.51 L111.9,253.72 L112.29,253.84 L112.67,254.08 L113.06,254.2 L113.44,254.18 L113.82,254.23 L114.21,254.37 L114.59,254.48 L114.98,254.47 L115.36,254.56 L115.74,254.78 L116.13,254.83 L116.51,254.96 L116.9,255.01 L117.28,255.04 L117.66,254.96 L118.05,254.96 L118.43,255.04 L118.82,255.13 L119.2,255.19 L119.58,255.23 L119.97,255.23 L120.35,255.39 L120.74,255.28 L121.12,255.36 L121.5,255.51 L121.89,255.52 L122.27,255.42 L122.66,255.43 L123.04,255.61 L123.42,255.42 L123.81,255.48 L124.19,255.61 L124.58,255.63 L124.96,255.55 L125.34,255.54 L125.73,255.6 L126.11,255.76 L126.5,255.7 L126.88,255.85 L127.26,255.81 L127.65,255.87 L128.03,255.64 L128.42,255.69 L128.8,255.65 L129.18,255.77 L129.57,255.75 L129.95,255.69 L130.34,255.82 L130.72,255.71 L131.1,255.77 L131.49,255.76 L131.87,255.91 L132.26,255.81 L132.64,255.78 L133.02,255.72 L133.41,255.83 L133.79,255.88 L135.71,255.91 L137.63,255.98 L139.55,255.96 L141.47,255.81 L143.39,255.79 L145.31,255.95 L147.23,255.96 L149.15,255.89 L151.07,255.97 L152.99,255.9 L154.91,255.83 L156.83,255.8 L158.75,255.76 L160.67,255.92 L162.59,255.98 L164.51,255.98 L166.43,255.87 L168.35,255.92 L170.27,255.98 L172.19,255.95 L174.11,255.89 L176.03,255.84 L177.95,255.86 L179.87,255.77 L181.79,255.77 L183.71,255.9 L185.63,255.97 L187.55,255.86 L189.47,255.82 L191.39,255.8 L193.31,255.82 L195.23,255.91 L197.15,255.81 L199.07,255.94 L200.99,255.73 L202.91,255.77 L204.83,255.82 L206.75,255.79 L208.67,255.9 L210.59,255.89 L212.51,255.91 L214.43,255.82" fill="none" stroke="#237f94" stroke-width="0.9" stroke-linejoin="round" />
</g>
<text x="27.8" y="253.6" font-size="5.9" fill="#237f94" stroke="#237f94" stroke-width="0.1">100 °C</text>
<g clip-path="url(#cd)">
<path d="M23.2,269.07 L25.12,269.21 L27.04,269.2 L28.96,269.18 L30.88,269.12 L32.8,269.23 L34.72,269.27 L36.64,269.06 L38.56,269.2 L40.48,269.12 L42.4,269.15 L44.32,269.25 L46.24,269.26 L48.16,269.17 L50.08,269.05 L52,269.23 L53.92,269.04 L55.84,269.08 L57.76,269.19 L59.68,269.05 L61.6,269.03 L63.52,269.2 L65.44,269.2 L67.36,269.03 L69.28,269.04 L71.2,269 L73.12,268.95 L75.04,268.97 L76.96,269.15 L78.88,268.9 L80.8,268.92 L82.72,268.89 L84.64,268.83 L86.56,268.91 L88.48,268.91 L90.4,268.85 L92.32,268.67 L94.24,268.49 L96.16,267.83 L96.54,267.76 L96.93,267.76 L97.31,267.31 L97.7,267.11 L98.08,266.83 L98.46,266.36 L98.85,265.89 L99.23,265.03 L99.62,264.09 L100,262.88 L100.38,260.64 L100.77,257.79 L101.15,252.95 L101.54,246.24 L101.92,237.41 L102.3,231.19 L102.69,233.36 L103.07,241.64 L103.46,249.85 L103.84,255.39 L104.22,259.12 L104.61,261.73 L104.99,263.39 L105.38,264.31 L105.76,265.36 L106.14,265.85 L106.53,266.25 L106.91,266.52 L107.3,266.86 L107.68,267.22 L108.06,267.2 L108.45,267.3 L108.83,267.41 L109.22,267.5 L109.6,267.63 L109.98,267.84 L110.37,267.68 L110.75,267.76 L111.14,268 L111.52,268.05 L111.9,268.08 L112.29,267.92 L112.67,267.98 L113.06,268.16 L113.44,268.07 L113.82,268.15 L114.21,268.08 L114.59,268.03 L114.98,268.14 L115.36,268.27 L115.74,268.31 L116.13,268.28 L116.51,268.28 L116.9,268.33 L117.28,268.33 L117.66,268.38 L118.05,268.49 L118.43,268.35 L118.82,268.48 L119.2,268.6 L119.58,268.6 L119.97,268.45 L120.35,268.68 L120.74,268.67 L121.12,268.52 L121.5,268.57 L121.89,268.58 L122.27,268.56 L122.66,268.82 L123.04,268.69 L123.42,268.83 L123.81,268.65 L124.19,268.64 L124.58,268.88 L124.96,268.87 L125.34,268.94 L125.73,268.87 L126.11,268.84 L126.5,268.91 L126.88,268.74 L127.26,268.87 L127.65,268.85 L128.03,268.78 L128.42,268.91 L128.8,268.84 L129.18,268.89 L129.57,268.86 L129.95,268.85 L130.34,268.87 L130.72,268.93 L131.1,269.03 L131.49,269.03 L131.87,269.01 L132.26,269 L132.64,268.86 L133.02,269.04 L133.41,268.86 L133.79,268.82 L135.71,268.93 L137.63,268.99 L139.55,268.89 L141.47,268.96 L143.39,268.87 L145.31,269.04 L147.23,268.91 L149.15,268.91 L151.07,268.92 L152.99,269.01 L154.91,269.04 L156.83,268.91 L158.75,268.89 L160.67,268.93 L162.59,268.79 L164.51,268.88 L166.43,268.98 L168.35,268.96 L170.27,268.77 L172.19,268.97 L174.11,268.85 L176.03,269 L177.95,268.84 L179.87,268.79 L181.79,268.88 L183.71,268.96 L185.63,268.84 L187.55,268.95 L189.47,268.9 L191.39,268.81 L193.31,268.79 L195.23,268.84 L197.15,268.81 L199.07,268.8 L200.99,268.86 L202.91,268.92 L204.83,268.84 L206.75,268.72 L208.67,268.74 L210.59,268.77 L212.51,268.83 L214.43,268.7" fill="none" stroke="#e8612c" stroke-width="0.9" stroke-linejoin="round" />
</g>
<text x="27.8" y="266.6" font-size="5.9" fill="#e8612c" stroke="#e8612c" stroke-width="0.1">130 °C</text>
<g clip-path="url(#cd)">
<path d="M23.2,281.48 L25.12,281.54 L27.04,281.53 L28.96,281.46 L30.88,281.58 L32.8,281.68 L34.72,281.57 L36.64,281.62 L38.56,281.64 L40.48,281.64 L42.4,281.65 L44.32,281.53 L46.24,281.58 L48.16,281.43 L50.08,281.62 L52,281.49 L53.92,281.51 L55.84,281.61 L57.76,281.45 L59.68,281.42 L61.6,281.57 L63.52,281.51 L65.44,281.37 L67.36,281.35 L69.28,281.42 L71.2,281.32 L73.12,281.53 L75.04,281.34 L76.96,281.35 L78.88,281.37 L80.8,281.38 L82.72,281.33 L84.64,281.35 L86.56,281.31 L88.48,281.19 L90.4,281.01 L92.32,281.1 L94.24,280.76 L96.16,280.08 L96.54,280.01 L96.93,279.89 L97.31,279.71 L97.7,279.16 L98.08,278.77 L98.46,278.41 L98.85,277.77 L99.23,277.05 L99.62,275.89 L100,274.15 L100.38,271.82 L100.77,268.34 L101.15,263.03 L101.54,254.84 L101.92,244.76 L102.3,237.49 L102.69,240.31 L103.07,249.76 L103.46,259.3 L103.84,265.78 L104.22,270.12 L104.61,272.83 L104.99,274.77 L105.38,276.15 L105.76,277.2 L106.14,277.81 L106.53,278.26 L106.91,278.84 L107.3,279.06 L107.68,279.27 L108.06,279.38 L108.45,279.57 L108.83,279.85 L109.22,279.76 L109.6,279.95 L109.98,280.05 L110.37,280.05 L110.75,280.21 L111.14,280.3 L111.52,280.33 L111.9,280.34 L112.29,280.24 L112.67,280.24 L113.06,280.37 L113.44,280.37 L113.82,280.37 L114.21,280.58 L114.59,280.44 L114.98,280.62 L115.36,280.68 L115.74,280.5 L116.13,280.74 L116.51,280.63 L116.9,280.61 L117.28,280.63 L117.66,280.63 L118.05,280.77 L118.43,280.77 L118.82,280.92 L119.2,280.95 L119.58,280.77 L119.97,280.89 L120.35,280.91 L120.74,280.88 L121.12,280.92 L121.5,280.95 L121.89,281.09 L122.27,281.02 L122.66,280.98 L123.04,281.03 L123.42,281.1 L123.81,281.15 L124.19,281.08 L124.58,281.22 L124.96,281.11 L125.34,281.24 L125.73,281.24 L126.11,281.13 L126.5,281.29 L126.88,281.21 L127.26,281.26 L127.65,281.28 L128.03,281.3 L128.42,281.26 L128.8,281.16 L129.18,281.36 L129.57,281.38 L129.95,281.29 L130.34,281.32 L130.72,281.24 L131.1,281.41 L131.49,281.35 L131.87,281.23 L132.26,281.39 L132.64,281.44 L133.02,281.27 L133.41,281.44 L133.79,281.31 L135.71,281.24 L137.63,281.38 L139.55,281.28 L141.47,281.38 L143.39,281.34 L145.31,281.22 L147.23,281.32 L149.15,281.41 L151.07,281.31 L152.99,281.32 L154.91,281.4 L156.83,281.29 L158.75,281.3 L160.67,281.32 L162.59,281.38 L164.51,281.22 L166.43,281.18 L168.35,281.35 L170.27,281.3 L172.19,281.23 L174.11,281.38 L176.03,281.37 L177.95,281.28 L179.87,281.39 L181.79,281.35 L183.71,281.32 L185.63,281.2 L187.55,281.12 L189.47,281.29 L191.39,281.3 L193.31,281.2 L195.23,281.23 L197.15,281.25 L199.07,281.16 L200.99,281.28 L202.91,281.24 L204.83,281.19 L206.75,281.11 L208.67,281.22 L210.59,281.16 L212.51,281.26 L214.43,281.11" fill="none" stroke="#ec6e30" stroke-width="0.9" stroke-linejoin="round" />
</g>
<text x="27.8" y="279" font-size="5.9" fill="#ec6e30" stroke="#ec6e30" stroke-width="0.1">120 °C</text>
<g clip-path="url(#cd)">
<path d="M23.2,294.66 L25.12,294.61 L27.04,294.66 L28.96,294.7 L30.88,294.57 L32.8,294.55 L34.72,294.66 L36.64,294.58 L38.56,294.66 L40.48,294.56 L42.4,294.54 L44.32,294.65 L46.24,294.74 L48.16,294.72 L50.08,294.63 L52,294.59 L53.92,294.5 L55.84,294.55 L57.76,294.55 L59.68,294.71 L61.6,294.49 L63.52,294.7 L65.44,294.57 L67.36,294.55 L69.28,294.49 L71.2,294.66 L73.12,294.45 L75.04,294.54 L76.96,294.5 L78.88,294.41 L80.8,294.39 L82.72,294.56 L84.64,294.47 L86.56,294.41 L88.48,294.38 L90.4,294.07 L92.32,294.06 L94.24,293.78 L96.16,293.05 L96.54,292.92 L96.93,292.83 L97.31,292.39 L97.7,292.16 L98.08,291.57 L98.46,291.16 L98.85,290.34 L99.23,289.45 L99.62,288.12 L100,286.42 L100.38,283.72 L100.77,279.65 L101.15,273.58 L101.54,264.4 L101.92,253 L102.3,244.69 L102.69,247.8 L103.07,258.74 L103.46,269.26 L103.84,276.66 L104.22,281.61 L104.61,284.95 L104.99,287.01 L105.38,288.66 L105.76,289.67 L106.14,290.57 L106.53,291.14 L106.91,291.56 L107.3,291.82 L107.68,292.01 L108.06,292.37 L108.45,292.6 L108.83,292.8 L109.22,292.74 L109.6,292.83 L109.98,293.13 L110.37,293.15 L110.75,293.15 L111.14,293.27 L111.52,293.17 L111.9,293.32 L112.29,293.39 L112.67,293.42 L113.06,293.34 L113.44,293.37 L113.82,293.53 L114.21,293.63 L114.59,293.47 L114.98,293.47 L115.36,293.52 L115.74,293.74 L116.13,293.66 L116.51,293.71 L116.9,293.88 L117.28,293.82 L117.66,293.76 L118.05,293.9 L118.43,293.75 L118.82,293.85 L119.2,293.99 L119.58,293.88 L119.97,293.87 L120.35,294.02 L120.74,294 L121.12,294.19 L121.5,293.99 L121.89,294.2 L122.27,294.11 L122.66,294.24 L123.04,294.17 L123.42,294.25 L123.81,294.17 L124.19,294.17 L124.58,294.24 L124.96,294.35 L125.34,294.24 L125.73,294.22 L126.11,294.28 L126.5,294.21 L126.88,294.28 L127.26,294.36 L127.65,294.36 L128.03,294.38 L128.42,294.31 L128.8,294.24 L129.18,294.25 L129.57,294.34 L129.95,294.3 L130.34,294.4 L130.72,294.33 L131.1,294.46 L131.49,294.42 L131.87,294.44 L132.26,294.46 L132.64,294.41 L133.02,294.39 L133.41,294.36 L133.79,294.3 L135.71,294.49 L137.63,294.42 L139.55,294.31 L141.47,294.53 L143.39,294.44 L145.31,294.45 L147.23,294.4 L149.15,294.31 L151.07,294.54 L152.99,294.32 L154.91,294.37 L156.83,294.53 L158.75,294.3 L160.67,294.4 L162.59,294.39 L164.51,294.33 L166.43,294.5 L168.35,294.36 L170.27,294.25 L172.19,294.37 L174.11,294.25 L176.03,294.43 L177.95,294.46 L179.87,294.47 L181.79,294.24 L183.71,294.4 L185.63,294.3 L187.55,294.34 L189.47,294.29 L191.39,294.29 L193.31,294.24 L195.23,294.37 L197.15,294.22 L199.07,294.45 L200.99,294.21 L202.91,294.44 L204.83,294.24 L206.75,294.2 L208.67,294.37 L210.59,294.31 L212.51,294.37 L214.43,294.3" fill="none" stroke="#f07a36" stroke-width="0.9" stroke-linejoin="round" />
</g>
<text x="27.8" y="292.1" font-size="5.9" fill="#f07a36" stroke="#f07a36" stroke-width="0.1">110 °C</text>
<g clip-path="url(#cd)">
<path d="M23.2,307.13 L25.12,306.98 L27.04,307.13 L28.96,307.09 L30.88,307.2 L32.8,306.95 L34.72,306.96 L36.64,307.11 L38.56,307.17 L40.48,307.04 L42.4,307.11 L44.32,307.07 L46.24,307.02 L48.16,307.03 L50.08,307.06 L52,306.91 L53.92,306.98 L55.84,307.09 L57.76,306.96 L59.68,307.01 L61.6,306.95 L63.52,306.97 L65.44,307.04 L67.36,307.06 L69.28,307.11 L71.2,306.98 L73.12,306.9 L75.04,306.93 L76.96,306.85 L78.88,306.89 L80.8,306.97 L82.72,306.97 L84.64,306.87 L86.56,306.84 L88.48,306.8 L90.4,306.81 L92.32,306.86 L94.24,306.76 L96.16,306.85 L96.54,306.75 L96.93,306.66 L97.31,306.66 L97.7,306.52 L98.08,306.65 L98.46,306.59 L98.85,306.41 L99.23,306.39 L99.62,306.13 L100,305.94 L100.38,305.72 L100.77,305.43 L101.15,305.22 L101.54,304.87 L101.92,304.5 L102.3,303.93 L102.69,303.72 L103.07,303.32 L103.46,303.06 L103.84,303 L104.22,303.03 L104.61,303.15 L104.99,303.49 L105.38,303.89 L105.76,304.27 L106.14,304.67 L106.53,304.8 L106.91,305.26 L107.3,305.47 L107.68,305.63 L108.06,305.84 L108.45,305.73 L108.83,305.97 L109.22,306.05 L109.6,305.87 L109.98,306.01 L110.37,306.11 L110.75,305.94 L111.14,306.08 L111.52,306.08 L111.9,305.95 L112.29,305.85 L112.67,305.85 L113.06,305.98 L113.44,305.84 L113.82,305.78 L114.21,305.76 L114.59,305.83 L114.98,305.58 L115.36,305.43 L115.74,305.57 L116.13,305.29 L116.51,305.18 L116.9,305.18 L117.28,304.83 L117.66,304.6 L118.05,304.62 L118.43,304.25 L118.82,304.05 L119.2,304.04 L119.58,303.68 L119.97,303.7 L120.35,303.43 L120.74,303.36 L121.12,303.33 L121.5,303.46 L121.89,303.57 L122.27,303.68 L122.66,303.9 L123.04,304.07 L123.42,304.44 L123.81,304.7 L124.19,304.89 L124.58,305.13 L124.96,305.15 L125.34,305.39 L125.73,305.56 L126.11,305.71 L126.5,306.06 L126.88,306.17 L127.26,306.28 L127.65,306.28 L128.03,306.24 L128.42,306.39 L128.8,306.35 L129.18,306.62 L129.57,306.49 L129.95,306.53 L130.34,306.73 L130.72,306.56 L131.1,306.76 L131.49,306.62 L131.87,306.73 L132.26,306.59 L132.64,306.81 L133.02,306.69 L133.41,306.69 L133.79,306.77 L135.71,306.79 L137.63,306.71 L139.55,306.69 L141.47,306.82 L143.39,306.68 L145.31,306.9 L147.23,306.77 L149.15,306.72 L151.07,306.76 L152.99,306.71 L154.91,306.76 L156.83,306.81 L158.75,306.78 L160.67,306.75 L162.59,306.74 L164.51,306.79 L166.43,306.86 L168.35,306.77 L170.27,306.85 L172.19,306.78 L174.11,306.68 L176.03,306.69 L177.95,306.86 L179.87,306.76 L181.79,306.73 L183.71,306.76 L185.63,306.85 L187.55,306.72 L189.47,306.71 L191.39,306.71 L193.31,306.61 L195.23,306.75 L197.15,306.73 L199.07,306.73 L200.99,306.71 L202.91,306.71 L204.83,306.77 L206.75,306.63 L208.67,306.84 L210.59,306.61 L212.51,306.8 L214.43,306.61" fill="none" stroke="#f48c42" stroke-width="0.9" stroke-linejoin="round" />
</g>
<text x="27.8" y="304.5" font-size="5.9" fill="#f48c42" stroke="#f48c42" stroke-width="0.1">100 °C</text>
<g clip-path="url(#cd)">
<path d="M23.2,319.77 L25.12,319.63 L27.04,319.58 L28.96,319.69 L30.88,319.77 L32.8,319.77 L34.72,319.77 L36.64,319.79 L38.56,319.55 L40.48,319.63 L42.4,319.55 L44.32,319.72 L46.24,319.63 L48.16,319.7 L50.08,319.71 L52,319.76 L53.92,319.67 L55.84,319.72 L57.76,319.63 L59.68,319.51 L61.6,319.71 L63.52,319.5 L65.44,319.49 L67.36,319.68 L69.28,319.53 L71.2,319.63 L73.12,319.46 L75.04,319.5 L76.96,319.63 L78.88,319.44 L80.8,319.56 L82.72,319.66 L84.64,319.47 L86.56,319.59 L88.48,319.59 L90.4,319.55 L92.32,319.57 L94.24,319.53 L96.16,319.32 L96.54,319.36 L96.93,319.44 L97.31,319.54 L97.7,319.33 L98.08,319.41 L98.46,319.28 L98.85,319.45 L99.23,319.33 L99.62,319.34 L100,319.36 L100.38,319.2 L100.77,319.33 L101.15,319.33 L101.54,319.32 L101.92,319.14 L102.3,319.1 L102.69,319.06 L103.07,319.22 L103.46,319.07 L103.84,319.03 L104.22,319.03 L104.61,319.04 L104.99,318.91 L105.38,318.88 L105.76,318.96 L106.14,318.92 L106.53,318.76 L106.91,318.67 L107.3,318.86 L107.68,318.77 L108.06,318.7 L108.45,318.61 L108.83,318.72 L109.22,318.55 L109.6,318.46 L109.98,318.39 L110.37,318.42 L110.75,318.45 L111.14,318.35 L111.52,318.46 L111.9,318.34 L112.29,318.25 L112.67,318.25 L113.06,318.17 L113.44,318.11 L113.82,317.99 L114.21,317.9 L114.59,317.77 L114.98,317.73 L115.36,317.4 L115.74,317.36 L116.13,317.02 L116.51,316.92 L116.9,316.44 L117.28,316.25 L117.66,315.91 L118.05,315.63 L118.43,315.14 L118.82,314.8 L119.2,314.41 L119.58,314.2 L119.97,313.92 L120.35,313.56 L120.74,313.48 L121.12,313.46 L121.5,313.74 L121.89,313.78 L122.27,314.07 L122.66,314.32 L123.04,314.79 L123.42,315.23 L123.81,315.6 L124.19,315.83 L124.58,316.33 L124.96,316.71 L125.34,316.93 L125.73,317.44 L126.11,317.59 L126.5,317.83 L126.88,318.13 L127.26,318.31 L127.65,318.45 L128.03,318.67 L128.42,318.7 L128.8,318.75 L129.18,318.76 L129.57,318.95 L129.95,318.96 L130.34,319.05 L130.72,319.04 L131.1,318.98 L131.49,319.02 L131.87,319.08 L132.26,319.08 L132.64,319.3 L133.02,319.24 L133.41,319.17 L133.79,319.3 L135.71,319.33 L137.63,319.22 L139.55,319.42 L141.47,319.3 L143.39,319.51 L145.31,319.29 L147.23,319.33 L149.15,319.33 L151.07,319.49 L152.99,319.48 L154.91,319.41 L156.83,319.3 L158.75,319.37 L160.67,319.44 L162.59,319.27 L164.51,319.5 L166.43,319.47 L168.35,319.49 L170.27,319.43 L172.19,319.41 L174.11,319.5 L176.03,319.31 L177.95,319.32 L179.87,319.26 L181.79,319.28 L183.71,319.43 L185.63,319.25 L187.55,319.41 L189.47,319.32 L191.39,319.44 L193.31,319.41 L195.23,319.38 L197.15,319.42 L199.07,319.21 L200.99,319.26 L202.91,319.29 L204.83,319.3 L206.75,319.36 L208.67,319.41 L210.59,319.37 L212.51,319.41 L214.43,319.35" fill="none" stroke="#f69c4e" stroke-width="0.9" stroke-linejoin="round" />
</g>
<text x="27.8" y="317.1" font-size="5.9" fill="#f69c4e" stroke="#f69c4e" stroke-width="0.1">80 °C</text>
<g clip-path="url(#cd)">
<path d="M23.2,331.96 L25.12,331.99 L27.04,332.05 L28.96,332.07 L30.88,331.95 L32.8,331.94 L34.72,332 L36.64,331.9 L38.56,332.06 L40.48,331.83 L42.4,331.99 L44.32,331.95 L46.24,331.87 L48.16,331.96 L50.08,331.93 L52,332.05 L53.92,332.03 L55.84,331.95 L57.76,332.02 L59.68,332.01 L61.6,331.82 L63.52,331.99 L65.44,331.99 L67.36,332.02 L69.28,331.96 L71.2,331.86 L73.12,331.8 L75.04,331.92 L76.96,331.8 L78.88,331.93 L80.8,331.88 L82.72,331.94 L84.64,331.81 L86.56,331.79 L88.48,331.94 L90.4,331.86 L92.32,331.78 L94.24,331.8 L96.16,331.74 L96.54,331.79 L96.93,331.75 L97.31,331.68 L97.7,331.85 L98.08,331.82 L98.46,331.77 L98.85,331.64 L99.23,331.6 L99.62,331.73 L100,331.74 L100.38,331.68 L100.77,331.55 L101.15,331.66 L101.54,331.59 L101.92,331.53 L102.3,331.57 L102.69,331.51 L103.07,331.54 L103.46,331.54 L103.84,331.58 L104.22,331.33 L104.61,331.42 L104.99,331.49 L105.38,331.39 L105.76,331.34 L106.14,331.39 L106.53,331.14 L106.91,331.31 L107.3,331.24 L107.68,331.2 L108.06,331.1 L108.45,331.15 L108.83,330.99 L109.22,331.07 L109.6,330.97 L109.98,331.11 L110.37,331.05 L110.75,330.93 L111.14,330.97 L111.52,330.84 L111.9,330.84 L112.29,330.7 L112.67,330.84 L113.06,330.75 L113.44,330.69 L113.82,330.43 L114.21,330.53 L114.59,330.21 L114.98,330.22 L115.36,330.05 L115.74,329.76 L116.13,329.65 L116.51,329.54 L116.9,329.21 L117.28,328.85 L117.66,328.67 L118.05,328.22 L118.43,328.03 L118.82,327.56 L119.2,327.14 L119.58,327.07 L119.97,326.57 L120.35,326.42 L120.74,326.43 L121.12,326.23 L121.5,326.41 L121.89,326.65 L122.27,326.81 L122.66,327.05 L123.04,327.5 L123.42,327.88 L123.81,328.19 L124.19,328.58 L124.58,328.85 L124.96,329.21 L125.34,329.68 L125.73,329.96 L126.11,329.96 L126.5,330.24 L126.88,330.44 L127.26,330.76 L127.65,330.75 L128.03,330.87 L128.42,331.13 L128.8,331.06 L129.18,331.34 L129.57,331.27 L129.95,331.44 L130.34,331.46 L130.72,331.33 L131.1,331.51 L131.49,331.44 L131.87,331.42 L132.26,331.39 L132.64,331.58 L133.02,331.56 L133.41,331.5 L133.79,331.65 L135.71,331.53 L137.63,331.63 L139.55,331.55 L141.47,331.63 L143.39,331.78 L145.31,331.69 L147.23,331.6 L149.15,331.63 L151.07,331.73 L152.99,331.64 L154.91,331.8 L156.83,331.58 L158.75,331.79 L160.67,331.72 L162.59,331.77 L164.51,331.65 L166.43,331.57 L168.35,331.6 L170.27,331.71 L172.19,331.55 L174.11,331.57 L176.03,331.74 L177.95,331.77 L179.87,331.76 L181.79,331.75 L183.71,331.67 L185.63,331.75 L187.55,331.7 L189.47,331.66 L191.39,331.62 L193.31,331.52 L195.23,331.53 L197.15,331.57 L199.07,331.62 L200.99,331.53 L202.91,331.74 L204.83,331.64 L206.75,331.68 L208.67,331.71 L210.59,331.53 L212.51,331.7 L214.43,331.72" fill="none" stroke="#f8ac5e" stroke-width="0.9" stroke-linejoin="round" />
</g>
<text x="27.8" y="329.4" font-size="5.9" fill="#f8ac5e" stroke="#f8ac5e" stroke-width="0.1">25 °C</text>
<defs><clipPath id="cd"><rect x="23.3" y="186.5" width="191.7" height="153.7"/></clipPath></defs>
<line x1="23.2" y1="340.2" x2="23.2" y2="337.4" stroke="#3c3c3c" stroke-width="0.9" />
<text x="23.2" y="349.6" font-size="8" fill="#333" stroke="#333" stroke-width="0.25" text-anchor="middle" >10</text>
<line x1="32.8" y1="340.2" x2="32.8" y2="338.7" stroke="#3c3c3c" stroke-width="0.9" />
<line x1="42.4" y1="340.2" x2="42.4" y2="337.4" stroke="#3c3c3c" stroke-width="0.9" />
<text x="42.4" y="349.6" font-size="8" fill="#333" stroke="#333" stroke-width="0.25" text-anchor="middle" >12</text>
<line x1="52" y1="340.2" x2="52" y2="338.7" stroke="#3c3c3c" stroke-width="0.9" />
<line x1="61.6" y1="340.2" x2="61.6" y2="337.4" stroke="#3c3c3c" stroke-width="0.9" />
<text x="61.6" y="349.6" font-size="8" fill="#333" stroke="#333" stroke-width="0.25" text-anchor="middle" >14</text>
<line x1="71.2" y1="340.2" x2="71.2" y2="338.7" stroke="#3c3c3c" stroke-width="0.9" />
<line x1="80.8" y1="340.2" x2="80.8" y2="337.4" stroke="#3c3c3c" stroke-width="0.9" />
<text x="80.8" y="349.6" font-size="8" fill="#333" stroke="#333" stroke-width="0.25" text-anchor="middle" >16</text>
<line x1="90.4" y1="340.2" x2="90.4" y2="338.7" stroke="#3c3c3c" stroke-width="0.9" />
<line x1="100" y1="340.2" x2="100" y2="337.4" stroke="#3c3c3c" stroke-width="0.9" />
<text x="100" y="349.6" font-size="8" fill="#333" stroke="#333" stroke-width="0.25" text-anchor="middle" >18</text>
<line x1="109.6" y1="340.2" x2="109.6" y2="338.7" stroke="#3c3c3c" stroke-width="0.9" />
<line x1="119.2" y1="340.2" x2="119.2" y2="337.4" stroke="#3c3c3c" stroke-width="0.9" />
<text x="119.2" y="349.6" font-size="8" fill="#333" stroke="#333" stroke-width="0.25" text-anchor="middle" >20</text>
<line x1="128.8" y1="340.2" x2="128.8" y2="338.7" stroke="#3c3c3c" stroke-width="0.9" />
<line x1="138.4" y1="340.2" x2="138.4" y2="337.4" stroke="#3c3c3c" stroke-width="0.9" />
<text x="138.4" y="349.6" font-size="8" fill="#333" stroke="#333" stroke-width="0.25" text-anchor="middle" >22</text>
<line x1="148" y1="340.2" x2="148" y2="338.7" stroke="#3c3c3c" stroke-width="0.9" />
<line x1="157.6" y1="340.2" x2="157.6" y2="337.4" stroke="#3c3c3c" stroke-width="0.9" />
<text x="157.6" y="349.6" font-size="8" fill="#333" stroke="#333" stroke-width="0.25" text-anchor="middle" >24</text>
<line x1="167.2" y1="340.2" x2="167.2" y2="338.7" stroke="#3c3c3c" stroke-width="0.9" />
<line x1="176.8" y1="340.2" x2="176.8" y2="337.4" stroke="#3c3c3c" stroke-width="0.9" />
<text x="176.8" y="349.6" font-size="8" fill="#333" stroke="#333" stroke-width="0.25" text-anchor="middle" >26</text>
<line x1="186.4" y1="340.2" x2="186.4" y2="338.7" stroke="#3c3c3c" stroke-width="0.9" />
<line x1="196" y1="340.2" x2="196" y2="337.4" stroke="#3c3c3c" stroke-width="0.9" />
<text x="196" y="349.6" font-size="8" fill="#333" stroke="#333" stroke-width="0.25" text-anchor="middle" >28</text>
<line x1="205.6" y1="340.2" x2="205.6" y2="338.7" stroke="#3c3c3c" stroke-width="0.9" />
<line x1="215.2" y1="340.2" x2="215.2" y2="337.4" stroke="#3c3c3c" stroke-width="0.9" />
<text x="215.2" y="349.6" font-size="8" fill="#333" stroke="#333" stroke-width="0.25" text-anchor="middle" >30</text>
<rect x="23.3" y="186.5" width="191.29999999999998" height="153.7" fill="none" stroke="#3c3c3c" stroke-width="1"/>
<text x="126.9" y="196.3" font-size="8" fill="#5c84c4" stroke="#5c84c4" stroke-width="0.1" text-anchor="middle" >β</text>
<text x="92.8" y="264.8" font-size="8" fill="#d9a62a" stroke="#d9a62a" stroke-width="0.1" text-anchor="middle" >α</text>
<text x="119.3" y="364.3" font-size="10.2" fill="#222" stroke="#222" stroke-width="0.25" text-anchor="middle" >2 Theta (°)</text>
<text transform="translate(10.5,263.3) rotate(-90)" font-size="10.1" fill="#222" stroke="#222" stroke-width="0.25" text-anchor="middle" >Intensity (arb. units)</text>
<text x="1.5" y="194.2" font-size="13" fill="#111" stroke="#111" stroke-width="0.25" text-anchor="start" >d</text>
<path d="M246.4,322.39 L247.45,322.25 L248.84,322.84 L250.5,322.9 L252.34,322.8 L254.29,322.43 L256.27,322.59 L258.19,322.15 L259.98,322.26 L261.68,322.46 L263.38,322.8 L265.07,322.28 L266.77,323.11 L268.47,322.36 L270.16,323.25 L271.86,322.6 L273.56,323.09 L275.26,323.01 L276.95,323.03 L278.65,322.47 L280.35,322.53 L282.05,321.99 L283.75,322.27 L285.44,321.4 L287.14,321.85 L288.84,321.3 L290.53,320.51 L292.23,320.96 L293.93,320.03 L295.63,319.42 L297.32,319.19 L299.02,318.58 L300.72,318.4 L302.45,318.37 L304.21,318.19 L305.99,317.42 L307.76,317.17 L309.51,316.68 L311.19,316.12 L312.8,315.36 L314.3,314.78 L315.67,314.25 L316.93,314.18 L318.1,313.46 L319.22,313.53 L320.32,312.71 L321.43,312.47 L322.58,311.92 L323.81,311.42 L325.13,310.34 L326.52,309.73 L327.96,309.37 L329.41,308.15 L330.83,307.76 L332.21,307.19 L333.5,305.84 L334.67,305.52 L335.72,304.39 L336.66,303.9 L337.53,302.74 L338.34,302.14 L339.11,301.23 L339.88,299.87 L340.65,299.13 L341.46,298 L342.3,296.73 L343.16,295.34 L344.02,293.86 L344.87,292.31 L345.71,290.72 L346.51,289.11 L347.27,287.53 L347.98,286 L348.64,284.5 L349.26,283 L349.84,281.5 L350.39,280 L350.91,278.5 L351.4,277 L351.87,275.5 L352.32,274 L352.75,272.51 L353.16,271.02 L353.53,269.54 L353.89,268.06 L354.21,266.57 L354.51,265.07 L354.79,263.55 L355.04,262 L355.25,260.39 L355.42,258.69 L355.56,256.96 L355.68,255.22 L355.78,253.52 L355.88,251.89 L356,250.37 L356.13,249 L356.27,247.75 L356.43,246.57 L356.59,245.47 L356.75,244.46 L356.9,243.54 L357.06,242.74 L357.21,242.06 L357.35,241.5 L357.48,241.08 L357.6,240.78 L357.71,240.59 L357.82,240.52 L357.93,240.55 L358.05,240.68 L358.17,240.9 L358.3,241.2 L358.43,241.57 L358.56,242.01 L358.69,242.52 L358.83,243.14 L358.97,243.88 L359.13,244.76 L359.31,245.79 L359.52,247 L359.76,248.46 L360.02,250.17 L360.3,252.08 L360.6,254.11 L360.91,256.19 L361.22,258.25 L361.53,260.21 L361.83,262 L362.13,263.6 L362.42,265.07 L362.71,266.46 L363.01,267.81 L363.31,269.19 L363.62,270.65 L363.94,272.23 L364.27,274 L364.62,275.99 L364.99,278.17 L365.37,280.49 L365.75,282.88 L366.14,285.28 L366.52,287.64 L366.9,289.9 L367.26,292 L367.6,293.99 L367.9,295.95 L368.18,297.85 L368.47,299.69 L368.77,301.45 L369.11,303.16 L369.51,304.58 L369.98,306.14 L370.53,307.6 L371.16,308.58 L371.85,309.55 L372.58,309.81 L373.31,311.09 L374.05,311.75 L374.75,312.72 L375.41,312.55 L376,313.36 L376.52,314.69 L377.01,314.7 L377.5,315.5 L378.01,315.86 L378.59,316.1 L379.25,316.51 L380.03,316.96 L380.93,317.61 L381.92,317.42 L382.99,317.81 L384.12,317.5 L385.3,317.96 L386.51,317.94 L387.75,318.14 L388.99,318.34 L390.27,317.69 L391.6,318.53 L392.98,318.23 L394.39,317.93 L395.8,318.12 L397.19,317.82 L398.55,317.98 L399.85,318.6 L401.08,318.6 L402.23,318.88 L403.34,318.4 L404.44,318.52 L405.56,318.94 L406.73,319.21 L407.99,319.56 L409.36,319.32 L410.86,319.82 L412.47,319.79 L414.15,319.61 L415.9,320.14 L417.67,319.58 L419.45,320.12 L421.21,319.83 L422.94,319.79 L424.73,320.27 L426.65,320.41 L428.63,320.59 L430.58,320.48 L432.42,321.08 L434.08,321.03 L435.47,320.53 L436.52,320.45" fill="none" stroke="#f7b072" stroke-width="0.9" stroke-linejoin="round" />
<path d="M246.4,323.81 L247.45,323.35 L248.84,323.11 L250.5,323.23 L252.34,323.75 L254.29,323.33 L256.27,323.57 L258.19,323.9 L259.98,323.67 L261.68,324 L263.38,324.34 L265.07,324.28 L266.77,324.22 L268.47,324.29 L270.16,324.06 L271.86,324.41 L273.56,324.43 L275.26,324.38 L276.95,324.27 L278.65,324.47 L280.35,323.93 L282.05,324.33 L283.75,324.5 L285.44,323.57 L287.14,323.68 L288.84,324.24 L290.53,323.32 L292.23,323.86 L293.93,323.52 L295.63,322.92 L297.32,323.27 L299.02,322.54 L300.72,323.11 L302.45,322.42 L304.21,322.76 L305.99,322.5 L307.76,321.57 L309.51,321.55 L311.19,321.05 L312.8,321.32 L314.3,320.44 L315.67,320.17 L316.93,320.02 L318.1,320.53 L319.22,319.78 L320.32,319.6 L321.43,319.35 L322.58,318.94 L323.81,318.12 L325.12,317.68 L326.5,315.99 L327.92,314.81 L329.36,313.76 L330.78,311.77 L332.15,310.28 L333.46,309.52 L334.67,307.83 L335.79,307.3 L336.84,306.3 L337.84,305.03 L338.79,304.15 L339.71,303.06 L340.58,302.78 L341.44,301.27 L342.27,300 L343.09,298.46 L343.87,296.74 L344.62,294.89 L345.35,292.94 L346.04,290.93 L346.71,288.91 L347.36,286.92 L347.98,285 L348.58,283.19 L349.15,281.48 L349.69,279.81 L350.21,278.12 L350.71,276.36 L351.18,274.45 L351.63,272.35 L352.05,270 L352.46,267.28 L352.84,264.2 L353.2,260.87 L353.53,257.44 L353.84,254.01 L354.13,250.71 L354.39,247.67 L354.63,245 L354.84,242.75 L355.01,240.82 L355.15,239.12 L355.27,237.56 L355.38,236.06 L355.48,234.52 L355.59,232.87 L355.72,231 L355.86,228.87 L355.99,226.55 L356.13,224.1 L356.27,221.62 L356.41,219.19 L356.54,216.89 L356.68,214.8 L356.81,213 L356.93,211.48 L357.06,210.15 L357.18,209 L357.31,207.99 L357.43,207.11 L357.54,206.33 L357.65,205.63 L357.76,205 L357.85,204.45 L357.94,204.02 L358.02,203.69 L358.1,203.46 L358.18,203.3 L358.26,203.22 L358.35,203.19 L358.44,203.2 L358.53,203.23 L358.62,203.27 L358.71,203.36 L358.81,203.52 L358.91,203.78 L359.01,204.18 L359.13,204.74 L359.25,205.5 L359.38,206.47 L359.52,207.62 L359.67,208.94 L359.83,210.39 L359.99,211.95 L360.15,213.59 L360.31,215.28 L360.47,217 L360.64,218.8 L360.8,220.73 L360.97,222.76 L361.14,224.84 L361.31,226.95 L361.49,229.04 L361.66,231.06 L361.83,233 L362,234.78 L362.15,236.43 L362.31,238 L362.47,239.56 L362.63,241.18 L362.8,242.91 L362.99,244.83 L363.19,247 L363.4,249.4 L363.62,251.95 L363.85,254.66 L364.1,257.5 L364.35,260.47 L364.62,263.55 L364.91,266.73 L365.23,270 L365.57,273.54 L365.96,277.45 L366.38,281.56 L366.81,285.73 L367.24,289.81 L367.65,293.65 L368.02,297.1 L368.35,300 L368.61,302.21 L368.8,303.99 L368.96,305.63 L369.1,307.54 L369.25,308 L369.43,309.39 L369.67,310.42 L369.98,311.32 L370.36,312.26 L370.78,313 L371.24,313.53 L371.74,314.73 L372.28,315.36 L372.84,315.58 L373.44,315.79 L374.05,316.87 L374.69,316.7 L375.34,317.1 L376.02,317.9 L376.73,318.44 L377.48,318.52 L378.28,318.38 L379.12,319.41 L380.03,318.89 L380.99,319.24 L382.01,319.95 L383.09,319.87 L384.2,319.91 L385.36,319.34 L386.55,320.07 L387.76,319.68 L388.99,319.36 L390.27,320.08 L391.6,320.2 L392.98,319.38 L394.39,319.71 L395.8,320.08 L397.19,319.54 L398.55,319.51 L399.85,319.95 L401.08,319.69 L402.23,320.26 L403.34,320.21 L404.44,320.3 L405.56,320.25 L406.73,319.88 L407.99,320.4 L409.36,320.37 L410.86,320.34 L412.47,320.46 L414.15,320.26 L415.9,320.2 L417.67,320.87 L419.45,320.41 L421.21,320.21 L422.94,321.03 L424.73,320.65 L426.65,320.84 L428.63,320.58 L430.58,320.45 L432.42,320.66 L434.08,321.15 L435.47,320.67 L436.52,321.27" fill="none" stroke="#3bbdd8" stroke-width="0.9" stroke-linejoin="round" />
<line x1="358.5" y1="197.5" x2="358.5" y2="339.5" stroke="#3e68a8" stroke-width="0.9" stroke-dasharray="1.4,1.6"/>
<line x1="358.5" y1="197.5" x2="367.5" y2="197.5" stroke="#3e68a8" stroke-width="0.9" stroke-dasharray="1.4,1.6"/>
<text x="368.2" y="200.6" font-size="7.9" fill="#3e68a8" stroke="#3e68a8" stroke-width="0.1" text-anchor="start" >20.2 ° β</text>
<line x1="323.9" y1="295" x2="323.9" y2="339.5" stroke="#e6aa3a" stroke-width="0.9" stroke-dasharray="1.4,1.6"/>
<text x="323.5" y="293.8" font-size="7.9" fill="#e0a232" stroke="#e0a232" stroke-width="0.1" text-anchor="middle" >17.7 ° α</text>
<line x1="246.4" y1="340.2" x2="246.4" y2="337.4" stroke="#3c3c3c" stroke-width="0.9" />
<text x="246.4" y="349.6" font-size="8" fill="#333" stroke="#333" stroke-width="0.25" text-anchor="middle" >12</text>
<line x1="259.98" y1="340.2" x2="259.98" y2="338.7" stroke="#3c3c3c" stroke-width="0.9" />
<line x1="273.56" y1="340.2" x2="273.56" y2="337.4" stroke="#3c3c3c" stroke-width="0.9" />
<text x="273.56" y="349.6" font-size="8" fill="#333" stroke="#333" stroke-width="0.25" text-anchor="middle" >14</text>
<line x1="287.14" y1="340.2" x2="287.14" y2="338.7" stroke="#3c3c3c" stroke-width="0.9" />
<line x1="300.72" y1="340.2" x2="300.72" y2="337.4" stroke="#3c3c3c" stroke-width="0.9" />
<text x="300.72" y="349.6" font-size="8" fill="#333" stroke="#333" stroke-width="0.25" text-anchor="middle" >16</text>
<line x1="314.3" y1="340.2" x2="314.3" y2="338.7" stroke="#3c3c3c" stroke-width="0.9" />
<line x1="327.88" y1="340.2" x2="327.88" y2="337.4" stroke="#3c3c3c" stroke-width="0.9" />
<text x="327.88" y="349.6" font-size="8" fill="#333" stroke="#333" stroke-width="0.25" text-anchor="middle" >18</text>
<line x1="341.46" y1="340.2" x2="341.46" y2="338.7" stroke="#3c3c3c" stroke-width="0.9" />
<line x1="355.04" y1="340.2" x2="355.04" y2="337.4" stroke="#3c3c3c" stroke-width="0.9" />
<text x="355.04" y="349.6" font-size="8" fill="#333" stroke="#333" stroke-width="0.25" text-anchor="middle" >20</text>
<line x1="368.62" y1="340.2" x2="368.62" y2="338.7" stroke="#3c3c3c" stroke-width="0.9" />
<line x1="382.2" y1="340.2" x2="382.2" y2="337.4" stroke="#3c3c3c" stroke-width="0.9" />
<text x="382.2" y="349.6" font-size="8" fill="#333" stroke="#333" stroke-width="0.25" text-anchor="middle" >22</text>
<line x1="395.78" y1="340.2" x2="395.78" y2="338.7" stroke="#3c3c3c" stroke-width="0.9" />
<line x1="409.36" y1="340.2" x2="409.36" y2="337.4" stroke="#3c3c3c" stroke-width="0.9" />
<text x="409.36" y="349.6" font-size="8" fill="#333" stroke="#333" stroke-width="0.25" text-anchor="middle" >24</text>
<line x1="422.94" y1="340.2" x2="422.94" y2="338.7" stroke="#3c3c3c" stroke-width="0.9" />
<line x1="436.52" y1="340.2" x2="436.52" y2="337.4" stroke="#3c3c3c" stroke-width="0.9" />
<text x="436.52" y="349.6" font-size="8" fill="#333" stroke="#333" stroke-width="0.25" text-anchor="middle" >26</text>
<rect x="246.4" y="186.6" width="191.20000000000002" height="153.6" fill="none" stroke="#3c3c3c" stroke-width="1"/>
<line x1="251.4" y1="208.2" x2="271.4" y2="208.2" stroke="#3bbdd8" stroke-width="1" />
<line x1="251.4" y1="218.5" x2="271.4" y2="218.5" stroke="#fcc69c" stroke-width="1.2" />
<text x="274.2" y="211.2" font-size="8.5" fill="#222" stroke="#222" stroke-width="0.25" text-anchor="start" >annealed</text>
<text x="274.2" y="221.5" font-size="8.5" fill="#222" stroke="#222" stroke-width="0.25" text-anchor="start" >unannealed</text>
<text x="342" y="364.3" font-size="10.2" fill="#222" stroke="#222" stroke-width="0.25" text-anchor="middle" >2 Theta (°)</text>
<text transform="translate(232.9,263) rotate(-90)" font-size="10.1" fill="#222" stroke="#222" stroke-width="0.25" text-anchor="middle" >Intensity (arb. units)</text>
<text x="223.5" y="194.3" font-size="14" fill="#111" stroke="#111" stroke-width="0.25" text-anchor="start" >e</text>
<path d="M509.5,235.39 L510,235.35 L510.5,235.31 L511,235.27 L511.5,235.24 L512,235.2 L512.5,235.16 L513,235.12 L513.5,235.09 L514,235.05 L514.5,235.01 L515,234.97 L515.5,234.94 L516,234.9 L516.5,234.86 L517,234.82 L517.5,234.78 L518,234.75 L518.5,234.71 L519,234.67 L519.5,234.64 L520,234.6 L520.5,234.56 L521,234.52 L521.5,234.48 L522,234.45 L522.5,234.41 L523,234.37 L523.5,234.33 L524,234.3 L524.5,234.26 L525,234.22 L525.5,234.18 L526,234.15 L526.5,234.11 L527,234.07 L527.5,234.03 L528,234 L528.5,233.96 L529,233.92 L529.5,233.88 L530,233.85 L530.5,233.81 L531,233.77 L531.5,233.73 L532,233.7 L532.5,233.66 L533,233.62 L533.5,233.58 L534,233.55 L534.5,233.51 L535,233.47 L535.5,233.43 L536,233.4 L536.5,233.36 L537,233.32 L537.5,233.28 L538,233.25 L538.5,233.21 L539,233.17 L539.5,233.13 L540,233.1 L540.5,233.06 L541,233.02 L541.5,232.98 L542,232.95 L542.5,232.91 L543,232.87 L543.5,232.83 L544,232.79 L544.5,232.75 L545,232.7 L545.5,232.66 L546,232.61 L546.5,232.55 L547,232.49 L547.5,232.43 L548,232.35 L548.5,232.26 L549,232.16 L549.5,232.04 L550,231.9 L550.5,231.73 L551,231.52 L551.5,231.28 L552,231 L552.5,230.72 L553,230.38 L553.5,229.98 L554,229.51 L554.5,228.97 L555,228.34 L555.5,227.63 L556,226.83 L557.1,225.96 L557.6,225 L558.1,223.97 L558.6,222.88 L559.1,221.74 L559.6,220.56 L560.1,219.38 L560.6,218.2 L561.1,217.05 L561.6,215.96 L562.1,214.94 L562.6,214.03 L563.1,213.25 L563.6,212.61 L564.1,212.14 L564.6,211.84 L565.1,211.73 L565.6,211.8 L566.1,212.01 L566.6,212.37 L567.1,212.86 L567.6,213.48 L568.1,214.21 L568.6,215.04 L569.1,215.96 L569.6,216.95 L570.1,217.99 L570.6,219.06 L571.1,220.04 L571.6,221.01 L572.1,221.95 L572.6,222.87 L573.1,223.74 L573.6,224.57 L574.1,225.36 L574.6,226.1 L575.1,226.79 L575.6,227.44 L576.1,228.03 L576.6,228.58 L577.1,229.09 L577.6,229.55 L578.1,229.97 L578.6,230.35 L579.1,230.68 L579.6,230.98 L580.1,231.25 L580,231.48 L580.5,231.7 L581,231.89 L581.5,232.06 L582,232.21 L582.5,232.34 L583,232.46 L583.5,232.57 L584,232.66 L584.5,232.74 L585,232.81 L585.5,232.88 L586,232.94 L586.5,232.99 L587,233.03 L587.5,233.07 L588,233.1 L588.5,233.13 L589,233.16 L589.5,233.18 L590,233.2 L590.5,233.22 L591,233.24 L591.5,233.25 L592,233.26 L592.5,233.28 L593,233.29 L593.5,233.29 L594,233.3 L594.5,233.31 L595,233.32 L595.5,233.32 L596,233.33 L596.5,233.33 L597,233.34 L597.5,233.34 L598,233.34 L598.5,233.35 L599,233.35 L599.5,233.35 L600,233.36 L600.5,233.36 L601,233.36 L601.5,233.36 L602,233.37 L602.5,233.37 L603,233.37 L603.5,233.37 L604,233.37 L604.5,233.38 L605,233.38 L605.5,233.38 L606,233.38 L606.5,233.38 L607,233.39 L607.5,233.39 L608,233.39 L608.5,233.39 L609,233.39 L609.5,233.39 L610,233.4 L610.5,233.4 L611,233.4 L611.5,233.4 L612,233.4 L612.5,233.4 L613,233.4 L613.5,233.41 L614,233.41 L614.5,233.41 L615,233.41 L615.5,233.41 L616,233.41 L616.5,233.42 L617,233.42 L617.5,233.42 L618,233.42 L618.5,233.42 L619,233.42 L619.5,233.42 L620,233.43 L620.5,233.43 L621,233.43 L621.5,233.43 L622,233.43 L622.5,233.43 L623,233.43 L623.5,233.44 L624,233.44 L624.5,233.44 L625,233.44 L625.5,233.44 L626,233.44 L626.5,233.45 L627,233.45 L627.5,233.45 L628,233.45 L628.5,233.45 L629,233.45 L629.5,233.45 L630,233.46 L630.5,233.46 L631,233.46 L631.5,233.46 L632,233.46 L632.5,233.46 L633,233.46 L633.5,233.47 L634,233.47 L634.5,233.47 L635,233.47 L635.5,233.47 L636,233.47 L636.5,233.48 L637,233.48 L637.5,233.48 L638,233.48 L638,233.48 L639.24,233.7 L640.99,233.99 L643.04,234.35 L645.19,234.75 L647.21,235.21 L648.9,235.7 L650.27,236.2 L651.51,236.7 L652.62,237.25 L653.63,237.88 L654.55,238.65 L655.4,239.6 L656.16,240.7 L656.82,241.9 L657.39,243.24 L657.88,244.73 L658.31,246.41 L658.7,248.3 L659.02,250.23 L659.27,252.14 L659.46,254.23 L659.6,256.71 L659.71,259.76 L659.8,263.6 L659.86,268.84 L659.88,275.46 L659.87,282.66 L659.84,289.64 L659.81,295.62 L659.8,299.8" fill="none" stroke="#f5a050" stroke-width="1.1" stroke-linejoin="round" />
<path d="M658.8,296 L657.19,295.93 L654.93,295.84 L652.27,295.73 L649.48,295.59 L646.8,295.42 L644.5,295.2 L642.51,294.88 L640.61,294.47 L638.83,294.01 L637.19,293.59 L635.74,293.26 L634.5,293.1 L633.57,293.06 L632.93,293.09 L632.48,293.21 L632.09,293.47 L631.64,293.88 L631,294.5 L630.24,295.5 L629.47,296.9 L628.63,298.46 L627.69,299.95 L626.59,301.14 L625.3,301.8 L623.79,301.83 L622.11,301.4 L620.27,300.66 L618.3,299.79 L616.24,298.95 L614.1,298.3 L612.1,297.81 L610.27,297.34 L608.33,296.89 L606.03,296.49 L603.11,296.12 L599.3,295.8 L594.38,295.57 L588.53,295.43 L582.05,295.33 L575.26,295.23 L568.47,295.07 L562,294.8 L555.55,294.42 L548.81,293.96 L542.07,293.45 L535.63,292.9 L529.78,292.35 L524.8,291.8 L520.74,291.27 L517.38,290.73 L514.61,290.19 L512.31,289.62 L510.38,289.03 L508.7,288.4 L507.43,287.79 L506.67,287.21 L506.29,286.61 L506.11,285.92 L506,285.07 L505.8,284 L505.55,282.54 L505.38,280.71 L505.27,278.73 L505.2,276.8 L505.15,275.15 L505.1,274" fill="none" stroke="#f5a050" stroke-width="1.1" stroke-linejoin="round" />
<path d="M509.5,235.39 L510,235.35 L510.5,235.31 L511,235.27 L511.5,235.24 L512,235.2 L512.5,235.16 L513,235.12 L513.5,235.09 L514,235.05 L514.5,235.01 L515,234.97 L515.5,234.94 L516,234.9 L516.5,234.86 L517,234.82 L517.5,234.78 L518,234.75 L518.5,234.71 L519,234.67 L519.5,234.64 L520,234.6 L520.5,234.56 L521,234.52 L521.5,234.48 L522,234.45 L522.5,234.41 L523,234.37 L523.5,234.33 L524,234.3 L524.5,234.26 L525,234.22 L525.5,234.18 L526,234.15 L526.5,234.11 L527,234.07 L527.5,234.03 L528,234 L528.5,233.96 L529,233.92 L529.5,233.88 L530,233.85 L530.5,233.81 L531,233.77 L531.5,233.73 L532,233.7 L532.5,233.66 L533,233.62 L533.5,233.58 L534,233.55 L534.5,233.51 L535,233.47 L535.5,233.43 L536,233.4 L536.5,233.36 L537,233.32 L537.5,233.28 L538,233.25 L538.5,233.21 L539,233.17 L539.5,233.13 L540,233.1 L540.5,233.06 L541,233.02 L541.5,232.98 L542,232.95 L542.5,232.91 L543,232.87 L543.5,232.83 L544,232.79 L544.5,232.75 L545,232.7 L545.5,232.66 L546,232.61 L546.5,232.55 L547,232.49 L547.5,232.43 L548,232.35 L548.5,232.26 L549,232.16 L549.5,232.04 L550,231.9 L550.5,231.73 L551,231.52 L551.5,231.28 L552,231 L552.5,230.72 L553,230.38 L553.5,229.98 L554,229.51 L554.5,228.97 L555,228.34 L555.5,227.63 L556,226.83 L556.5,225.96 L557,225 L557.5,223.97 L558,222.88 L558.5,221.74 L559,220.56 L559.5,219.38 L560,218.2 L560.5,217.05 L561,215.96 L561.5,214.94 L562,214.03 L562.5,213.25 L563,212.61 L563.5,212.14 L564,211.84 L564.5,211.73 L565,211.8 L565.5,212.01 L566,212.37 L566.5,212.86 L567,213.48 L567.5,214.21 L568,215.04 L568.5,215.96 L569,216.95 L569.5,217.99 L570,219.06 L570.5,220.04 L571,221.01 L571.5,221.95 L572,222.87 L572.5,223.74 L573,224.57 L573.5,225.36 L574,226.1 L574.5,226.79 L575,227.44 L575.5,228.03 L576,228.58 L576.5,229.09 L577,229.55 L577.5,229.97 L578,230.35 L578.5,230.68 L579,230.98 L579.5,231.25 L580,231.48 L580.5,231.7 L581,231.89 L581.5,232.06 L582,232.21 L582.5,232.34 L583,232.46 L583.5,232.57 L584,232.66 L584.5,232.74 L585,232.81 L585.5,232.88 L586,232.94 L586.5,232.99 L587,233.03 L587.5,233.07 L588,233.1 L588.5,233.13 L589,233.16 L589.5,233.18 L590,233.2 L590.5,233.22 L591,233.24 L591.5,233.25 L592,233.26 L592.5,233.28 L593,233.29 L593.5,233.29 L594,233.3 L594.5,233.31 L595,233.32 L595.5,233.32 L596,233.33 L596.5,233.33 L597,233.34 L597.5,233.34 L598,233.34 L598.5,233.35 L599,233.35 L599.5,233.35 L600,233.36 L600.5,233.36 L601,233.36 L601.5,233.36 L602,233.37 L602.5,233.37 L603,233.37 L603.5,233.37 L604,233.37 L604.5,233.38 L605,233.38 L605.5,233.38 L606,233.38 L606.5,233.38 L607,233.39 L607.5,233.39 L608,233.39 L608.5,233.39 L609,233.39 L609.5,233.39 L610,233.4 L610.5,233.4 L611,233.4 L611.5,233.4 L612,233.4 L612.5,233.4 L613,233.4 L613.5,233.41 L614,233.41 L614.5,233.41 L615,233.41 L615.5,233.41 L616,233.41 L616.5,233.42 L617,233.42 L617.5,233.42 L618,233.42 L618.5,233.42 L619,233.42 L619.5,233.42 L620,233.43 L620.5,233.43 L621,233.43 L621.5,233.43 L622,233.43 L622.5,233.43 L623,233.43 L623.5,233.44 L624,233.44 L624.5,233.44 L625,233.44 L625.5,233.44 L626,233.44 L626.5,233.45 L627,233.45 L627.5,233.45 L628,233.45 L628.5,233.45 L629,233.45 L629.5,233.45 L630,233.46 L630.5,233.46 L631,233.46 L631.5,233.46 L632,233.46 L632.5,233.46 L633,233.46 L633.5,233.47 L634,233.47 L634.5,233.47 L635,233.47 L635.5,233.47 L636,233.47 L636.5,233.48 L637,233.48 L637.5,233.48 L638,233.48 L638,233.48 L639.24,233.7 L640.99,233.99 L643.04,234.35 L645.19,234.75 L647.21,235.21 L648.9,235.7 L650.27,236.2 L651.51,236.7 L652.62,237.25 L653.63,237.88 L654.55,238.65 L655.4,239.6 L656.16,240.7 L656.82,241.9 L657.39,243.24 L657.88,244.73 L658.31,246.41 L658.7,248.3 L659.02,250.23 L659.27,252.14 L659.46,254.23 L659.6,256.71 L659.71,259.76 L659.8,263.6 L659.86,268.84 L659.88,275.46 L659.87,282.66 L659.84,289.64 L659.81,295.62 L659.8,299.8" fill="none" stroke="#3ab5c8" stroke-width="1.1" stroke-linejoin="round" />
<path d="M659.8,299.8 L659.75,299.7 L659.73,299.48 L659.69,299.26 L659.56,299.16 L659.28,299.3 L658.8,299.8 L658.08,300.78 L657.16,302.18 L656.1,303.81 L654.95,305.52 L653.76,307.14 L652.6,308.5 L651.47,309.73 L650.32,310.99 L649.14,312.16 L647.9,313.12 L646.6,313.74 L645.2,313.9 L643.68,313.47 L642.06,312.51 L640.36,311.22 L638.62,309.79 L636.89,308.38 L635.2,307.2 L633.56,306.21 L631.94,305.24 L630.33,304.32 L628.69,303.43 L627.02,302.59 L625.3,301.8 L623.55,301.06 L621.8,300.37 L620.01,299.73 L618.15,299.13 L616.19,298.55 L614.1,298 L612.1,297.47 L610.27,296.96 L608.33,296.49 L606.03,296.05 L603.11,295.65 L599.3,295.3 L594.38,295.03 L588.53,294.86 L582.05,294.72 L575.26,294.58 L568.47,294.39 L562,294.1 L555.55,293.71 L548.81,293.24 L542.07,292.73 L535.63,292.18 L529.78,291.63 L524.8,291.1 L520.74,290.59 L517.38,290.09 L514.61,289.58 L512.31,289.06 L510.38,288.5 L508.7,287.9 L507.43,287.32 L506.67,286.78 L506.29,286.21 L506.11,285.53 L506,284.69 L505.8,283.6 L505.55,282.09 L505.38,280.17 L505.27,278.08 L505.2,276.05 L505.15,274.31 L505.1,273.1" fill="none" stroke="#3ab5c8" stroke-width="1.1" stroke-linejoin="round" />
<line x1="487.7" y1="203" x2="490.5" y2="203" stroke="#3c3c3c" stroke-width="0.9" />
<text x="484" y="205.85" font-size="8" fill="#333" stroke="#333" stroke-width="0.25" text-anchor="end" >1.5</text>
<line x1="487.7" y1="230.4" x2="490.5" y2="230.4" stroke="#3c3c3c" stroke-width="0.9" />
<text x="484" y="233.25" font-size="8" fill="#333" stroke="#333" stroke-width="0.25" text-anchor="end" >1.0</text>
<line x1="487.7" y1="257.8" x2="490.5" y2="257.8" stroke="#3c3c3c" stroke-width="0.9" />
<text x="484" y="260.65" font-size="8" fill="#333" stroke="#333" stroke-width="0.25" text-anchor="end" >0.5</text>
<line x1="487.7" y1="285.2" x2="490.5" y2="285.2" stroke="#3c3c3c" stroke-width="0.9" />
<text x="484" y="288.05" font-size="8" fill="#333" stroke="#333" stroke-width="0.25" text-anchor="end" >0.0</text>
<line x1="487.7" y1="312.6" x2="490.5" y2="312.6" stroke="#3c3c3c" stroke-width="0.9" />
<text x="484" y="315.45" font-size="8" fill="#333" stroke="#333" stroke-width="0.25" text-anchor="end" >-0.5</text>
<line x1="487.7" y1="340" x2="490.5" y2="340" stroke="#3c3c3c" stroke-width="0.9" />
<text x="484" y="342.85" font-size="8" fill="#333" stroke="#333" stroke-width="0.25" text-anchor="end" >-1.0</text>
<line x1="487.7" y1="189.3" x2="489.2" y2="189.3" stroke="#3c3c3c" stroke-width="0.9" />
<line x1="487.7" y1="216.7" x2="489.2" y2="216.7" stroke="#3c3c3c" stroke-width="0.9" />
<line x1="487.7" y1="244.1" x2="489.2" y2="244.1" stroke="#3c3c3c" stroke-width="0.9" />
<line x1="487.7" y1="271.5" x2="489.2" y2="271.5" stroke="#3c3c3c" stroke-width="0.9" />
<line x1="487.7" y1="298.9" x2="489.2" y2="298.9" stroke="#3c3c3c" stroke-width="0.9" />
<line x1="487.7" y1="326.3" x2="489.2" y2="326.3" stroke="#3c3c3c" stroke-width="0.9" />
<line x1="487.62" y1="340.2" x2="487.62" y2="338.7" stroke="#3c3c3c" stroke-width="0.9" />
<line x1="505" y1="340.2" x2="505" y2="337.4" stroke="#3c3c3c" stroke-width="0.9" />
<text x="505" y="349.6" font-size="8" fill="#333" stroke="#333" stroke-width="0.25" text-anchor="middle" >40</text>
<line x1="522.38" y1="340.2" x2="522.38" y2="338.7" stroke="#3c3c3c" stroke-width="0.9" />
<line x1="539.75" y1="340.2" x2="539.75" y2="337.4" stroke="#3c3c3c" stroke-width="0.9" />
<text x="539.75" y="349.6" font-size="8" fill="#333" stroke="#333" stroke-width="0.25" text-anchor="middle" >60</text>
<line x1="557.12" y1="340.2" x2="557.12" y2="338.7" stroke="#3c3c3c" stroke-width="0.9" />
<line x1="574.5" y1="340.2" x2="574.5" y2="337.4" stroke="#3c3c3c" stroke-width="0.9" />
<text x="574.5" y="349.6" font-size="8" fill="#333" stroke="#333" stroke-width="0.25" text-anchor="middle" >80</text>
<line x1="591.88" y1="340.2" x2="591.88" y2="338.7" stroke="#3c3c3c" stroke-width="0.9" />
<line x1="609.25" y1="340.2" x2="609.25" y2="337.4" stroke="#3c3c3c" stroke-width="0.9" />
<text x="609.25" y="349.6" font-size="8" fill="#333" stroke="#333" stroke-width="0.25" text-anchor="middle" >100</text>
<line x1="626.62" y1="340.2" x2="626.62" y2="338.7" stroke="#3c3c3c" stroke-width="0.9" />
<line x1="644" y1="340.2" x2="644" y2="337.4" stroke="#3c3c3c" stroke-width="0.9" />
<text x="644" y="349.6" font-size="8" fill="#333" stroke="#333" stroke-width="0.25" text-anchor="middle" >120</text>
<line x1="661.38" y1="340.2" x2="661.38" y2="338.7" stroke="#3c3c3c" stroke-width="0.9" />
<line x1="678.75" y1="340.2" x2="678.75" y2="337.4" stroke="#3c3c3c" stroke-width="0.9" />
<text x="678.75" y="349.6" font-size="8" fill="#333" stroke="#333" stroke-width="0.25" text-anchor="middle" >140</text>
<rect x="487.7" y="186.5" width="191.09999999999997" height="153.7" fill="none" stroke="#3c3c3c" stroke-width="1"/>
<line x1="602.6" y1="200" x2="620.1" y2="200" stroke="#f7b072" stroke-width="1" />
<line x1="602.6" y1="209.6" x2="620.1" y2="209.6" stroke="#3ab5c8" stroke-width="1" />
<text x="622.6" y="202.9" font-size="8" fill="#f5a050" stroke="#f5a050" stroke-width="0.1" text-anchor="start" >First Time</text>
<text x="622.6" y="212.5" font-size="8" fill="#3ab5c8" stroke="#3ab5c8" stroke-width="0.1" text-anchor="start" >Second Time</text>
<text x="583.5" y="364.6" font-size="10.2" fill="#222" stroke="#222" stroke-width="0.25" text-anchor="middle" >Temperature (°C)</text>
<text transform="translate(466.8,252.6) rotate(-90)" font-size="10" fill="#222" stroke="#222" stroke-width="0.25" text-anchor="middle" >Heat flow (W/g)</text>
<text transform="translate(464.9,297.7) rotate(-90)" font-size="7.0" fill="#222" stroke="#222" stroke-width="0.25" text-anchor="middle" >exo</text>
<line x1="467.2" y1="304.6" x2="467.2" y2="294" stroke="#222" stroke-width="0.8" />
<path d="M467.2,290.2 L466.1,295.2 L468.3,295.2 Z" fill="#222"/>
<text x="462.3" y="193.9" font-size="13" fill="#111" stroke="#111" stroke-width="0.25" text-anchor="start" >f</text></svg></body></html>
